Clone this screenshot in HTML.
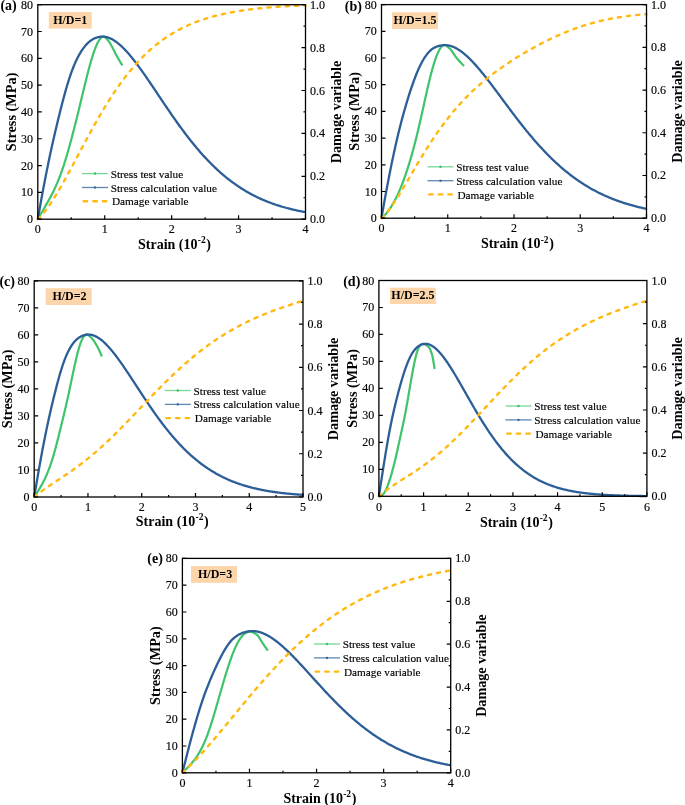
<!DOCTYPE html>
<html><head><meta charset="utf-8"><style>
html,body{margin:0;padding:0;background:#fff;}
body{width:685px;height:805px;overflow:hidden;font-family:"Liberation Serif",serif;}
svg{display:block;will-change:transform;}
</style></head><body>
<svg width="685" height="805" viewBox="0 0 685 805" font-family='"Liberation Serif", serif' fill="#000">
<style>text:not([font-weight]){stroke:#000;stroke-width:0.15px;}</style>
<rect width="685" height="805" fill="#fff"/>
<g><rect x="48.8" y="11.9" width="42.9" height="16.7" fill="#fdd5ab"/><text x="70.25" y="23.85" text-anchor="middle" font-weight="bold" font-size="12">H/D=1</text><path d="M37.8,219.19 L38.54,217.87 L39.28,216.57 L40.02,215.28 L40.76,214.01 L41.5,212.74 L42.24,211.47 L42.99,210.21 L43.73,208.95 L44.47,207.69 L45.21,206.42 L45.95,205.14 L46.69,203.86 L47.43,202.56 L48.17,201.24 L48.91,199.91 L49.65,198.56 L50.39,197.18 L51.13,195.78 L51.87,194.35 L52.61,192.89 L53.36,191.4 L54.1,189.87 L54.84,188.3 L55.58,186.68 L56.32,185.03 L57.06,183.33 L57.8,181.58 L58.54,179.77 L59.28,177.92 L60.02,176 L60.76,174.03 L61.5,171.99 L62.24,169.89 L62.98,167.72 L63.73,165.48 L64.47,163.17 L65.21,160.79 L65.95,158.35 L66.69,155.86 L67.43,153.31 L68.17,150.71 L68.91,148.07 L69.65,145.39 L70.39,142.67 L71.13,139.93 L71.87,137.16 L72.61,134.37 L73.35,131.55 L74.1,128.7 L74.84,125.83 L75.58,122.92 L76.32,119.98 L77.06,117.01 L77.8,114 L78.54,110.96 L79.28,107.89 L80.02,104.81 L80.76,101.71 L81.5,98.6 L82.24,95.5 L82.98,92.4 L83.72,89.31 L84.47,86.25 L85.21,83.21 L85.95,80.21 L86.69,77.26 L87.43,74.35 L88.17,71.49 L88.91,68.7 L89.65,65.97 L90.39,63.33 L91.13,60.76 L91.87,58.29 L92.61,55.91 L93.35,53.63 L94.1,51.47 L94.84,49.42 L95.58,47.5 L96.32,45.71 L97.06,44.05 L97.8,42.54 L98.54,41.18 L99.28,39.98 L100.02,38.95 L100.76,38.09 L101.5,37.4 L102.24,36.91 L102.98,36.6 L103.72,36.5 L104.2,36.77 L104.68,37.1 L105.16,37.46 L105.64,37.87 L106.12,38.32 L106.6,38.8 L107.08,39.3 L107.55,39.84 L108.03,40.39 L108.51,40.97 L108.99,41.57 L109.47,42.26 L109.95,43.01 L110.43,43.83 L110.9,44.68 L111.38,45.55 L111.86,46.43 L112.34,47.31 L112.82,48.2 L113.3,49.13 L113.78,50.09 L114.26,51.07 L114.73,52.04 L115.21,53.01 L115.69,53.94 L116.17,54.84 L116.65,55.71 L117.13,56.57 L117.61,57.42 L118.09,58.26 L118.56,59.09 L119.04,59.91 L119.52,60.72 L120,61.52 L120.48,62.3 L120.96,63.07 L121.44,63.83 L121.91,64.57 L122.39,65.3" fill="none" stroke="#3ec46b" stroke-width="2.2" stroke-linejoin="round"/><path d="M37.8,219.2 L38.7,214.08 L39.59,208.98 L40.49,203.94 L41.38,198.96 L42.28,194.09 L43.17,189.31 L44.07,184.6 L44.96,179.94 L45.86,175.36 L46.75,170.85 L47.65,166.41 L48.54,162.05 L49.44,157.76 L50.33,153.55 L51.23,149.42 L52.13,145.35 L53.02,141.36 L53.92,137.43 L54.81,133.55 L55.71,129.73 L56.6,125.96 L57.5,122.24 L58.39,118.55 L59.29,114.91 L60.18,111.32 L61.08,107.77 L61.97,104.27 L62.87,100.83 L63.76,97.45 L64.66,94.15 L65.55,90.93 L66.45,87.79 L67.35,84.76 L68.24,81.82 L69.14,78.99 L70.03,76.27 L70.93,73.67 L71.82,71.18 L72.72,68.81 L73.61,66.54 L74.51,64.39 L75.4,62.35 L76.3,60.41 L77.19,58.57 L78.09,56.82 L78.98,55.17 L79.88,53.61 L80.78,52.12 L81.67,50.72 L82.57,49.4 L83.46,48.15 L84.36,46.97 L85.25,45.87 L86.15,44.83 L87.04,43.86 L87.94,42.95 L88.83,42.16 L89.73,41.43 L90.62,40.75 L91.52,40.12 L92.41,39.55 L93.31,39.04 L94.21,38.57 L95.1,38.16 L96,37.8 L96.89,37.49 L97.79,37.22 L98.68,37.01 L99.58,36.84 L100.47,36.71 L101.37,36.64 L102.26,36.61 L103.16,36.62 L104.05,36.68 L104.95,36.79 L105.84,36.95 L106.74,37.16 L107.63,37.41 L108.53,37.71 L109.43,38.05 L110.32,38.43 L111.22,38.85 L112.11,39.31 L113.01,39.81 L113.9,40.35 L114.8,40.93 L115.69,41.54 L116.59,42.18 L117.48,42.86 L118.38,43.58 L119.27,44.32 L120.17,45.1 L121.06,45.9 L121.96,46.74 L122.86,47.6 L123.75,48.49 L124.65,49.4 L125.54,50.34 L126.44,51.3 L127.33,52.29 L128.23,53.3 L129.12,54.33 L130.02,55.38 L130.91,56.46 L131.81,57.55 L132.7,58.66 L133.6,59.78 L134.49,60.92 L135.39,62.08 L136.28,63.26 L137.18,64.45 L138.08,65.65 L138.97,66.86 L139.87,68.09 L140.76,69.33 L141.66,70.58 L142.55,71.84 L143.45,73.1 L144.34,74.38 L145.24,75.67 L146.13,76.96 L147.03,78.26 L147.92,79.56 L148.82,80.88 L149.71,82.19 L150.61,83.51 L151.51,84.84 L152.4,86.17 L153.3,87.5 L154.19,88.83 L155.09,90.17 L155.98,91.51 L156.88,92.84 L157.77,94.18 L158.67,95.52 L159.56,96.86 L160.46,98.2 L161.35,99.53 L162.25,100.87 L163.14,102.2 L164.04,103.53 L164.94,104.86 L165.83,106.18 L166.73,107.51 L167.62,108.82 L168.52,110.14 L169.41,111.44 L170.31,112.75 L171.2,114.05 L172.1,115.34 L172.99,116.63 L173.89,117.91 L174.78,119.19 L175.68,120.45 L176.57,121.72 L177.47,122.97 L178.36,124.22 L179.26,125.46 L180.16,126.7 L181.05,127.92 L181.95,129.14 L182.84,130.35 L183.74,131.55 L184.63,132.75 L185.53,133.93 L186.42,135.11 L187.32,136.28 L188.21,137.43 L189.11,138.58 L190,139.72 L190.9,140.85 L191.79,141.98 L192.69,143.09 L193.59,144.19 L194.48,145.28 L195.38,146.36 L196.27,147.44 L197.17,148.5 L198.06,149.55 L198.96,150.6 L199.85,151.63 L200.75,152.65 L201.64,153.66 L202.54,154.66 L203.43,155.66 L204.33,156.64 L205.22,157.61 L206.12,158.57 L207.02,159.52 L207.91,160.46 L208.81,161.39 L209.7,162.31 L210.6,163.22 L211.49,164.11 L212.39,165 L213.28,165.88 L214.18,166.75 L215.07,167.6 L215.97,168.45 L216.86,169.29 L217.76,170.11 L218.65,170.93 L219.55,171.74 L220.44,172.53 L221.34,173.32 L222.24,174.09 L223.13,174.86 L224.03,175.61 L224.92,176.36 L225.82,177.1 L226.71,177.82 L227.61,178.54 L228.5,179.24 L229.4,179.94 L230.29,180.63 L231.19,181.31 L232.08,181.98 L232.98,182.64 L233.87,183.29 L234.77,183.93 L235.67,184.56 L236.56,185.18 L237.46,185.79 L238.35,186.4 L239.25,186.99 L240.14,187.58 L241.04,188.16 L241.93,188.73 L242.83,189.29 L243.72,189.84 L244.62,190.39 L245.51,190.92 L246.41,191.45 L247.3,191.97 L248.2,192.48 L249.09,192.98 L249.99,193.48 L250.89,193.97 L251.78,194.44 L252.68,194.92 L253.57,195.38 L254.47,195.84 L255.36,196.29 L256.26,196.73 L257.15,197.17 L258.05,197.59 L258.94,198.01 L259.84,198.43 L260.73,198.84 L261.63,199.24 L262.52,199.63 L263.42,200.02 L264.32,200.4 L265.21,200.77 L266.11,201.14 L267,201.5 L267.9,201.85 L268.79,202.2 L269.69,202.54 L270.58,202.88 L271.48,203.21 L272.37,203.54 L273.27,203.86 L274.16,204.17 L275.06,204.48 L275.95,204.78 L276.85,205.08 L277.75,205.37 L278.64,205.65 L279.54,205.94 L280.43,206.21 L281.33,206.48 L282.22,206.75 L283.12,207.01 L284.01,207.26 L284.91,207.52 L285.8,207.76 L286.7,208 L287.59,208.24 L288.49,208.48 L289.38,208.7 L290.28,208.93 L291.17,209.15 L292.07,209.36 L292.97,209.58 L293.86,209.78 L294.76,209.99 L295.65,210.19 L296.55,210.38 L297.44,210.57 L298.34,210.76 L299.23,210.95 L300.13,211.13 L301.02,211.3 L301.92,211.48 L302.81,211.65 L303.71,211.82 L304.6,211.98 L305.5,212.14" fill="none" stroke="#2c5e98" stroke-width="2.3" stroke-linejoin="round"/><path d="M37.8,219.2 L38.7,218.31 L39.59,217.39 L40.49,216.43 L41.38,215.43 L42.28,214.4 L43.17,213.33 L44.07,212.23 L44.96,211.1 L45.86,209.94 L46.75,208.75 L47.65,207.53 L48.54,206.28 L49.44,205 L50.33,203.7 L51.23,202.37 L52.13,201.02 L53.02,199.64 L53.92,198.24 L54.81,196.82 L55.71,195.38 L56.6,193.92 L57.5,192.44 L58.39,190.94 L59.29,189.42 L60.18,187.89 L61.08,186.34 L61.97,184.78 L62.87,183.21 L63.76,181.62 L64.66,180.02 L65.55,178.41 L66.45,176.79 L67.35,175.16 L68.24,173.52 L69.14,171.88 L70.03,170.22 L70.93,168.56 L71.82,166.9 L72.72,165.23 L73.61,163.55 L74.51,161.88 L75.4,160.2 L76.3,158.51 L77.19,156.83 L78.09,155.15 L78.98,153.46 L79.88,151.78 L80.78,150.1 L81.67,148.42 L82.57,146.74 L83.46,145.07 L84.36,143.39 L85.25,141.73 L86.15,140.06 L87.04,138.41 L87.94,136.75 L88.83,135.11 L89.73,133.47 L90.62,131.84 L91.52,130.21 L92.41,128.59 L93.31,126.98 L94.21,125.38 L95.1,123.79 L96,122.21 L96.89,120.63 L97.79,119.07 L98.68,117.51 L99.58,115.97 L100.47,114.44 L101.37,112.92 L102.26,111.41 L103.16,109.91 L104.05,108.42 L104.95,106.95 L105.84,105.48 L106.74,104.03 L107.63,102.59 L108.53,101.17 L109.43,99.75 L110.32,98.35 L111.22,96.97 L112.11,95.59 L113.01,94.23 L113.9,92.89 L114.8,91.55 L115.69,90.23 L116.59,88.93 L117.48,87.63 L118.38,86.36 L119.27,85.09 L120.17,83.84 L121.06,82.6 L121.96,81.38 L122.86,80.17 L123.75,78.98 L124.65,77.8 L125.54,76.63 L126.44,75.48 L127.33,74.34 L128.23,73.21 L129.12,72.1 L130.02,71 L130.91,69.92 L131.81,68.85 L132.7,67.8 L133.6,66.75 L134.49,65.73 L135.39,64.71 L136.28,63.71 L137.18,62.72 L138.08,61.75 L138.97,60.79 L139.87,59.84 L140.76,58.9 L141.66,57.98 L142.55,57.07 L143.45,56.18 L144.34,55.3 L145.24,54.43 L146.13,53.57 L147.03,52.72 L147.92,51.89 L148.82,51.07 L149.71,50.26 L150.61,49.46 L151.51,48.68 L152.4,47.9 L153.3,47.14 L154.19,46.39 L155.09,45.65 L155.98,44.93 L156.88,44.21 L157.77,43.51 L158.67,42.81 L159.56,42.13 L160.46,41.46 L161.35,40.8 L162.25,40.14 L163.14,39.5 L164.04,38.87 L164.94,38.25 L165.83,37.64 L166.73,37.04 L167.62,36.45 L168.52,35.87 L169.41,35.29 L170.31,34.73 L171.2,34.18 L172.1,33.63 L172.99,33.1 L173.89,32.57 L174.78,32.05 L175.68,31.54 L176.57,31.04 L177.47,30.55 L178.36,30.06 L179.26,29.59 L180.16,29.12 L181.05,28.66 L181.95,28.21 L182.84,27.76 L183.74,27.32 L184.63,26.89 L185.53,26.47 L186.42,26.06 L187.32,25.65 L188.21,25.25 L189.11,24.85 L190,24.46 L190.9,24.08 L191.79,23.71 L192.69,23.34 L193.59,22.98 L194.48,22.62 L195.38,22.27 L196.27,21.93 L197.17,21.59 L198.06,21.26 L198.96,20.94 L199.85,20.62 L200.75,20.3 L201.64,19.99 L202.54,19.69 L203.43,19.39 L204.33,19.1 L205.22,18.81 L206.12,18.53 L207.02,18.25 L207.91,17.98 L208.81,17.71 L209.7,17.45 L210.6,17.19 L211.49,16.94 L212.39,16.69 L213.28,16.45 L214.18,16.21 L215.07,15.97 L215.97,15.74 L216.86,15.51 L217.76,15.29 L218.65,15.07 L219.55,14.85 L220.44,14.64 L221.34,14.43 L222.24,14.23 L223.13,14.03 L224.03,13.83 L224.92,13.64 L225.82,13.45 L226.71,13.26 L227.61,13.08 L228.5,12.9 L229.4,12.72 L230.29,12.55 L231.19,12.38 L232.08,12.21 L232.98,12.05 L233.87,11.89 L234.77,11.73 L235.67,11.57 L236.56,11.42 L237.46,11.27 L238.35,11.12 L239.25,10.98 L240.14,10.84 L241.04,10.7 L241.93,10.56 L242.83,10.43 L243.72,10.3 L244.62,10.17 L245.51,10.04 L246.41,9.92 L247.3,9.8 L248.2,9.68 L249.09,9.56 L249.99,9.44 L250.89,9.33 L251.78,9.22 L252.68,9.11 L253.57,9 L254.47,8.9 L255.36,8.8 L256.26,8.7 L257.15,8.6 L258.05,8.5 L258.94,8.4 L259.84,8.31 L260.73,8.22 L261.63,8.13 L262.52,8.04 L263.42,7.96 L264.32,7.87 L265.21,7.79 L266.11,7.71 L267,7.63 L267.9,7.55 L268.79,7.47 L269.69,7.4 L270.58,7.32 L271.48,7.25 L272.37,7.18 L273.27,7.11 L274.16,7.04 L275.06,6.98 L275.95,6.91 L276.85,6.85 L277.75,6.79 L278.64,6.73 L279.54,6.67 L280.43,6.61 L281.33,6.55 L282.22,6.49 L283.12,6.44 L284.01,6.39 L284.91,6.33 L285.8,6.28 L286.7,6.23 L287.59,6.18 L288.49,6.14 L289.38,6.09 L290.28,6.04 L291.17,6 L292.07,5.96 L292.97,5.91 L293.86,5.87 L294.76,5.83 L295.65,5.79 L296.55,5.76 L297.44,5.72 L298.34,5.68 L299.23,5.65 L300.13,5.61 L301.02,5.58 L301.92,5.55 L302.81,5.52 L303.71,5.49 L304.6,5.46 L305.5,5.43" fill="none" stroke="#ffb910" stroke-width="2.4" stroke-dasharray="3.2 6" stroke-linecap="round"/><rect x="37.8" y="4.7" width="267.7" height="214.5" fill="none" stroke="#000" stroke-width="1.3"/><path d="M37.8,219.2h4 M37.8,192.39h4 M37.8,165.57h4 M37.8,138.76h4 M37.8,111.95h4 M37.8,85.14h4 M37.8,58.32h4 M37.8,31.51h4 M37.8,4.7h4 M305.5,219.2h-4 M305.5,197.75h-2 M305.5,176.3h-4 M305.5,154.85h-2 M305.5,133.4h-4 M305.5,111.95h-2 M305.5,90.5h-4 M305.5,69.05h-2 M305.5,47.6h-4 M305.5,26.15h-2 M305.5,4.7h-4 M37.8,219.2v-4 M71.26,219.2v-2 M104.72,219.2v-4 M138.19,219.2v-2 M171.65,219.2v-4 M205.11,219.2v-2 M238.57,219.2v-4 M272.04,219.2v-2 M305.5,219.2v-4" stroke="#000" stroke-width="1.2" fill="none"/><text x="33.1" y="223.2" text-anchor="end" font-size="12">0</text><text x="33.1" y="196.39" text-anchor="end" font-size="12">10</text><text x="33.1" y="169.57" text-anchor="end" font-size="12">20</text><text x="33.1" y="142.76" text-anchor="end" font-size="12">30</text><text x="33.1" y="115.95" text-anchor="end" font-size="12">40</text><text x="33.1" y="89.14" text-anchor="end" font-size="12">50</text><text x="33.1" y="62.32" text-anchor="end" font-size="12">60</text><text x="33.1" y="35.51" text-anchor="end" font-size="12">70</text><text x="33.1" y="8.7" text-anchor="end" font-size="12">80</text><text x="310.1" y="223.2" font-size="12">0.0</text><text x="310.1" y="180.3" font-size="12">0.2</text><text x="310.1" y="137.4" font-size="12">0.4</text><text x="310.1" y="94.5" font-size="12">0.6</text><text x="310.1" y="51.6" font-size="12">0.8</text><text x="310.1" y="8.7" font-size="12">1.0</text><text x="37.8" y="233.3" text-anchor="middle" font-size="12">0</text><text x="104.72" y="233.3" text-anchor="middle" font-size="12">1</text><text x="171.65" y="233.3" text-anchor="middle" font-size="12">2</text><text x="238.57" y="233.3" text-anchor="middle" font-size="12">3</text><text x="305.5" y="233.3" text-anchor="middle" font-size="12">4</text><text transform="translate(16.2,111.95) rotate(-90)" text-anchor="middle" font-weight="bold" font-size="14.3">Stress (MPa)</text><text transform="translate(340.9,111.95) rotate(-90)" text-anchor="middle" font-weight="bold" font-size="14.15">Damage variable</text><text x="138" y="248.6" font-weight="bold" font-size="14">Strain (10<tspan dx="0.3" dy="-5.8" font-size="9.5">-2</tspan><tspan dx="0.6" dy="5.8">)</tspan></text><text x="0.4" y="9.6" font-weight="bold" font-size="14">(a)</text><path d="M82,173.6h26" stroke="#3ec46b" stroke-opacity="0.7" stroke-width="1.3"/><circle cx="95" cy="173.6" r="1.3" fill="#3ec46b"/><path d="M82,187.5h26" stroke="#2c5e98" stroke-opacity="0.75" stroke-width="1.3"/><rect x="94" y="186.5" width="2" height="2" fill="#2c5e98"/><path d="M83.7,201.2h23" stroke="#ffb910" stroke-width="2.4" stroke-dasharray="3.4 6.2" stroke-linecap="round"/><text x="110.7" y="177.7" font-size="11.25">Stress test value</text><text x="110.7" y="191.5" font-size="11.25">Stress calculation value</text><text x="112" y="205.3" font-size="11.25">Damage variable</text></g>
<g><rect x="392" y="12.2" width="46" height="16.8" fill="#fdd5ab"/><text x="415" y="24.2" text-anchor="middle" font-weight="bold" font-size="12">H/D=1.5</text><path d="M381.5,218.19 L382.21,217.6 L382.92,216.96 L383.63,216.29 L384.35,215.58 L385.06,214.83 L385.77,214.04 L386.48,213.21 L387.19,212.34 L387.9,211.43 L388.62,210.47 L389.33,209.48 L390.04,208.45 L390.75,207.37 L391.46,206.25 L392.17,205.09 L392.89,203.88 L393.6,202.63 L394.31,201.34 L395.02,200 L395.73,198.62 L396.44,197.19 L397.16,195.72 L397.87,194.2 L398.58,192.63 L399.29,191.02 L400,189.36 L400.71,187.66 L401.43,185.91 L402.14,184.1 L402.85,182.26 L403.56,180.36 L404.27,178.41 L404.98,176.41 L405.7,174.37 L406.41,172.27 L407.12,170.13 L407.83,167.93 L408.54,165.68 L409.25,163.38 L409.96,161.03 L410.68,158.62 L411.39,156.17 L412.1,153.66 L412.81,151.09 L413.52,148.48 L414.23,145.81 L414.95,143.08 L415.66,140.3 L416.37,137.46 L417.08,134.57 L417.79,131.63 L418.5,128.62 L419.22,125.56 L419.93,122.46 L420.64,119.31 L421.35,116.12 L422.06,112.92 L422.77,109.7 L423.49,106.47 L424.2,103.24 L424.91,100.02 L425.62,96.82 L426.33,93.65 L427.04,90.51 L427.76,87.41 L428.47,84.37 L429.18,81.38 L429.89,78.47 L430.6,75.63 L431.31,72.87 L432.03,70.21 L432.74,67.66 L433.45,65.21 L434.16,62.88 L434.87,60.67 L435.58,58.6 L436.29,56.65 L437.01,54.85 L437.72,53.17 L438.43,51.65 L439.14,50.26 L439.85,49.03 L440.56,47.95 L441.28,47.02 L441.99,46.26 L442.7,45.66 L443.41,45.22 L444.12,44.95 L444.83,44.86 L445.33,45.11 L445.82,45.39 L446.32,45.7 L446.81,46.04 L447.31,46.41 L447.8,46.8 L448.29,47.21 L448.79,47.65 L449.28,48.1 L449.78,48.57 L450.27,49.07 L450.77,49.64 L451.26,50.27 L451.76,50.95 L452.25,51.67 L452.74,52.41 L453.24,53.17 L453.73,53.93 L454.23,54.68 L454.72,55.42 L455.22,56.13 L455.71,56.79 L456.2,57.41 L456.7,58.01 L457.19,58.61 L457.69,59.19 L458.18,59.77 L458.68,60.34 L459.17,60.91 L459.66,61.46 L460.16,62.01 L460.65,62.54 L461.15,63.07 L461.64,63.59 L462.14,64.09 L462.63,64.59 L463.13,65.07 L463.62,65.55 L464.11,66.01" fill="none" stroke="#3ec46b" stroke-width="2.2" stroke-linejoin="round"/><path d="M381.5,218.2 L382.39,212.93 L383.27,207.81 L384.16,202.8 L385.05,197.87 L385.93,193.04 L386.82,188.28 L387.7,183.6 L388.59,178.99 L389.48,174.46 L390.36,170 L391.25,165.63 L392.14,161.33 L393.02,157.11 L393.91,152.97 L394.79,148.92 L395.68,144.95 L396.57,141.07 L397.45,137.27 L398.34,133.56 L399.23,129.94 L400.11,126.41 L401,122.96 L401.88,119.59 L402.77,116.3 L403.66,113.09 L404.54,109.95 L405.43,106.88 L406.32,103.87 L407.2,100.92 L408.09,98.04 L408.97,95.21 L409.86,92.44 L410.75,89.73 L411.63,87.09 L412.52,84.51 L413.41,82.01 L414.29,79.58 L415.18,77.23 L416.07,74.96 L416.95,72.77 L417.84,70.67 L418.72,68.66 L419.61,66.74 L420.5,64.91 L421.38,63.17 L422.27,61.52 L423.16,59.96 L424.04,58.49 L424.93,57.11 L425.81,55.82 L426.7,54.61 L427.59,53.49 L428.47,52.45 L429.36,51.49 L430.25,50.6 L431.13,49.79 L432.02,49.14 L432.9,48.56 L433.79,48.04 L434.68,47.57 L435.56,47.15 L436.45,46.78 L437.34,46.45 L438.22,46.17 L439.11,45.92 L439.99,45.71 L440.88,45.54 L441.77,45.4 L442.65,45.29 L443.54,45.22 L444.43,45.19 L445.31,45.18 L446.2,45.22 L447.09,45.29 L447.97,45.4 L448.86,45.55 L449.74,45.74 L450.63,45.97 L451.52,46.24 L452.4,46.55 L453.29,46.89 L454.18,47.27 L455.06,47.68 L455.95,48.13 L456.83,48.62 L457.72,49.13 L458.61,49.68 L459.49,50.25 L460.38,50.86 L461.27,51.49 L462.15,52.16 L463.04,52.85 L463.92,53.56 L464.81,54.3 L465.7,55.07 L466.58,55.86 L467.47,56.67 L468.36,57.5 L469.24,58.36 L470.13,59.23 L471.02,60.13 L471.9,61.04 L472.79,61.98 L473.67,62.93 L474.56,63.89 L475.45,64.87 L476.33,65.87 L477.22,66.89 L478.11,67.91 L478.99,68.95 L479.88,70.01 L480.76,71.07 L481.65,72.15 L482.54,73.24 L483.42,74.33 L484.31,75.44 L485.2,76.56 L486.08,77.68 L486.97,78.82 L487.85,79.96 L488.74,81.11 L489.63,82.26 L490.51,83.42 L491.4,84.59 L492.29,85.76 L493.17,86.93 L494.06,88.11 L494.94,89.29 L495.83,90.48 L496.72,91.67 L497.6,92.86 L498.49,94.05 L499.38,95.25 L500.26,96.44 L501.15,97.64 L502.04,98.83 L502.92,100.03 L503.81,101.22 L504.69,102.42 L505.58,103.61 L506.47,104.8 L507.35,105.99 L508.24,107.18 L509.13,108.37 L510.01,109.55 L510.9,110.73 L511.78,111.91 L512.67,113.08 L513.56,114.25 L514.44,115.42 L515.33,116.58 L516.22,117.74 L517.1,118.89 L517.99,120.04 L518.87,121.18 L519.76,122.32 L520.65,123.45 L521.53,124.58 L522.42,125.7 L523.31,126.81 L524.19,127.92 L525.08,129.02 L525.96,130.12 L526.85,131.21 L527.74,132.29 L528.62,133.37 L529.51,134.43 L530.4,135.5 L531.28,136.55 L532.17,137.6 L533.06,138.64 L533.94,139.67 L534.83,140.69 L535.71,141.71 L536.6,142.71 L537.49,143.71 L538.37,144.71 L539.26,145.69 L540.15,146.67 L541.03,147.63 L541.92,148.59 L542.8,149.55 L543.69,150.49 L544.58,151.42 L545.46,152.35 L546.35,153.27 L547.24,154.18 L548.12,155.08 L549.01,155.97 L549.89,156.85 L550.78,157.73 L551.67,158.59 L552.55,159.45 L553.44,160.3 L554.33,161.14 L555.21,161.97 L556.1,162.79 L556.98,163.61 L557.87,164.41 L558.76,165.21 L559.64,166 L560.53,166.78 L561.42,167.55 L562.3,168.31 L563.19,169.06 L564.08,169.81 L564.96,170.55 L565.85,171.27 L566.73,171.99 L567.62,172.71 L568.51,173.41 L569.39,174.1 L570.28,174.79 L571.17,175.47 L572.05,176.14 L572.94,176.8 L573.82,177.45 L574.71,178.1 L575.6,178.74 L576.48,179.37 L577.37,179.99 L578.26,180.6 L579.14,181.21 L580.03,181.81 L580.91,182.4 L581.8,182.98 L582.69,183.55 L583.57,184.12 L584.46,184.68 L585.35,185.23 L586.23,185.78 L587.12,186.32 L588.01,186.85 L588.89,187.37 L589.78,187.89 L590.66,188.39 L591.55,188.9 L592.44,189.39 L593.32,189.88 L594.21,190.36 L595.1,190.83 L595.98,191.3 L596.87,191.76 L597.75,192.22 L598.64,192.66 L599.53,193.1 L600.41,193.54 L601.3,193.97 L602.19,194.39 L603.07,194.8 L603.96,195.21 L604.84,195.62 L605.73,196.01 L606.62,196.41 L607.5,196.79 L608.39,197.17 L609.28,197.54 L610.16,197.91 L611.05,198.27 L611.93,198.63 L612.82,198.98 L613.71,199.33 L614.59,199.67 L615.48,200 L616.37,200.33 L617.25,200.66 L618.14,200.98 L619.03,201.29 L619.91,201.6 L620.8,201.91 L621.68,202.21 L622.57,202.5 L623.46,202.79 L624.34,203.08 L625.23,203.36 L626.12,203.63 L627,203.91 L627.89,204.17 L628.77,204.44 L629.66,204.69 L630.55,204.95 L631.43,205.2 L632.32,205.44 L633.21,205.69 L634.09,205.92 L634.98,206.16 L635.86,206.39 L636.75,206.61 L637.64,206.83 L638.52,207.05 L639.41,207.27 L640.3,207.48 L641.18,207.68 L642.07,207.89 L642.95,208.09 L643.84,208.28 L644.73,208.48 L645.61,208.66 L646.5,208.85" fill="none" stroke="#2c5e98" stroke-width="2.3" stroke-linejoin="round"/><path d="M381.5,218.2 L382.39,217.36 L383.27,216.48 L384.16,215.55 L385.05,214.57 L385.93,213.56 L386.82,212.5 L387.7,211.41 L388.59,210.28 L389.48,209.11 L390.36,207.92 L391.25,206.69 L392.14,205.43 L393.02,204.15 L393.91,202.84 L394.79,201.51 L395.68,200.16 L396.57,198.79 L397.45,197.4 L398.34,195.99 L399.23,194.56 L400.11,193.13 L401,191.68 L401.88,190.21 L402.77,188.74 L403.66,187.26 L404.54,185.77 L405.43,184.27 L406.32,182.77 L407.2,181.26 L408.09,179.75 L408.97,178.24 L409.86,176.73 L410.75,175.21 L411.63,173.7 L412.52,172.19 L413.41,170.68 L414.29,169.17 L415.18,167.66 L416.07,166.16 L416.95,164.67 L417.84,163.18 L418.72,161.69 L419.61,160.21 L420.5,158.74 L421.38,157.28 L422.27,155.82 L423.16,154.37 L424.04,152.93 L424.93,151.5 L425.81,150.08 L426.7,148.67 L427.59,147.27 L428.47,145.88 L429.36,144.5 L430.25,143.13 L431.13,141.77 L432.02,140.42 L432.9,139.09 L433.79,137.76 L434.68,136.45 L435.56,135.15 L436.45,133.86 L437.34,132.58 L438.22,131.32 L439.11,130.06 L439.99,128.82 L440.88,127.59 L441.77,126.38 L442.65,125.17 L443.54,123.98 L444.43,122.8 L445.31,121.63 L446.2,120.47 L447.09,119.33 L447.97,118.19 L448.86,117.07 L449.74,115.96 L450.63,114.87 L451.52,113.78 L452.4,112.71 L453.29,111.65 L454.18,110.59 L455.06,109.55 L455.95,108.53 L456.83,107.51 L457.72,106.5 L458.61,105.51 L459.49,104.52 L460.38,103.55 L461.27,102.58 L462.15,101.63 L463.04,100.69 L463.92,99.75 L464.81,98.83 L465.7,97.92 L466.58,97.01 L467.47,96.12 L468.36,95.23 L469.24,94.36 L470.13,93.49 L471.02,92.63 L471.9,91.78 L472.79,90.94 L473.67,90.11 L474.56,89.29 L475.45,88.47 L476.33,87.67 L477.22,86.87 L478.11,86.08 L478.99,85.3 L479.88,84.52 L480.76,83.75 L481.65,82.99 L482.54,82.24 L483.42,81.49 L484.31,80.75 L485.2,80.02 L486.08,79.29 L486.97,78.57 L487.85,77.86 L488.74,77.16 L489.63,76.45 L490.51,75.76 L491.4,75.07 L492.29,74.39 L493.17,73.71 L494.06,73.04 L494.94,72.38 L495.83,71.72 L496.72,71.06 L497.6,70.41 L498.49,69.77 L499.38,69.13 L500.26,68.5 L501.15,67.87 L502.04,67.24 L502.92,66.62 L503.81,66.01 L504.69,65.4 L505.58,64.79 L506.47,64.19 L507.35,63.59 L508.24,63 L509.13,62.41 L510.01,61.83 L510.9,61.25 L511.78,60.67 L512.67,60.1 L513.56,59.53 L514.44,58.97 L515.33,58.41 L516.22,57.85 L517.1,57.3 L517.99,56.75 L518.87,56.2 L519.76,55.66 L520.65,55.12 L521.53,54.58 L522.42,54.05 L523.31,53.52 L524.19,53 L525.08,52.48 L525.96,51.96 L526.85,51.45 L527.74,50.93 L528.62,50.43 L529.51,49.92 L530.4,49.42 L531.28,48.92 L532.17,48.43 L533.06,47.94 L533.94,47.45 L534.83,46.97 L535.71,46.48 L536.6,46.01 L537.49,45.53 L538.37,45.06 L539.26,44.59 L540.15,44.13 L541.03,43.67 L541.92,43.21 L542.8,42.75 L543.69,42.3 L544.58,41.85 L545.46,41.41 L546.35,40.97 L547.24,40.53 L548.12,40.1 L549.01,39.66 L549.89,39.24 L550.78,38.81 L551.67,38.39 L552.55,37.97 L553.44,37.56 L554.33,37.15 L555.21,36.74 L556.1,36.34 L556.98,35.94 L557.87,35.54 L558.76,35.15 L559.64,34.76 L560.53,34.38 L561.42,33.99 L562.3,33.62 L563.19,33.24 L564.08,32.87 L564.96,32.5 L565.85,32.14 L566.73,31.78 L567.62,31.43 L568.51,31.07 L569.39,30.73 L570.28,30.38 L571.17,30.04 L572.05,29.71 L572.94,29.37 L573.82,29.04 L574.71,28.72 L575.6,28.4 L576.48,28.08 L577.37,27.77 L578.26,27.46 L579.14,27.15 L580.03,26.85 L580.91,26.55 L581.8,26.26 L582.69,25.97 L583.57,25.68 L584.46,25.4 L585.35,25.12 L586.23,24.84 L587.12,24.57 L588.01,24.31 L588.89,24.04 L589.78,23.79 L590.66,23.53 L591.55,23.28 L592.44,23.03 L593.32,22.79 L594.21,22.55 L595.1,22.31 L595.98,22.08 L596.87,21.85 L597.75,21.62 L598.64,21.4 L599.53,21.19 L600.41,20.97 L601.3,20.76 L602.19,20.56 L603.07,20.35 L603.96,20.15 L604.84,19.96 L605.73,19.77 L606.62,19.58 L607.5,19.39 L608.39,19.21 L609.28,19.03 L610.16,18.86 L611.05,18.68 L611.93,18.52 L612.82,18.35 L613.71,18.19 L614.59,18.03 L615.48,17.88 L616.37,17.72 L617.25,17.58 L618.14,17.43 L619.03,17.29 L619.91,17.15 L620.8,17.01 L621.68,16.88 L622.57,16.75 L623.46,16.62 L624.34,16.49 L625.23,16.37 L626.12,16.25 L627,16.13 L627.89,16.02 L628.77,15.91 L629.66,15.8 L630.55,15.69 L631.43,15.59 L632.32,15.49 L633.21,15.39 L634.09,15.29 L634.98,15.2 L635.86,15.11 L636.75,15.02 L637.64,14.93 L638.52,14.85 L639.41,14.77 L640.3,14.69 L641.18,14.61 L642.07,14.54 L642.95,14.46 L643.84,14.39 L644.73,14.32 L645.61,14.26 L646.5,14.19" fill="none" stroke="#ffb910" stroke-width="2.4" stroke-dasharray="3.2 6" stroke-linecap="round"/><rect x="381.5" y="4.6" width="265" height="213.6" fill="none" stroke="#000" stroke-width="1.3"/><path d="M381.5,218.2h4 M381.5,191.5h4 M381.5,164.8h4 M381.5,138.1h4 M381.5,111.4h4 M381.5,84.7h4 M381.5,58h4 M381.5,31.3h4 M381.5,4.6h4 M646.5,218.2h-4 M646.5,196.84h-2 M646.5,175.48h-4 M646.5,154.12h-2 M646.5,132.76h-4 M646.5,111.4h-2 M646.5,90.04h-4 M646.5,68.68h-2 M646.5,47.32h-4 M646.5,25.96h-2 M646.5,4.6h-4 M381.5,218.2v-4 M414.62,218.2v-2 M447.75,218.2v-4 M480.88,218.2v-2 M514,218.2v-4 M547.12,218.2v-2 M580.25,218.2v-4 M613.38,218.2v-2 M646.5,218.2v-4" stroke="#000" stroke-width="1.2" fill="none"/><text x="376.8" y="222.2" text-anchor="end" font-size="12">0</text><text x="376.8" y="195.5" text-anchor="end" font-size="12">10</text><text x="376.8" y="168.8" text-anchor="end" font-size="12">20</text><text x="376.8" y="142.1" text-anchor="end" font-size="12">30</text><text x="376.8" y="115.4" text-anchor="end" font-size="12">40</text><text x="376.8" y="88.7" text-anchor="end" font-size="12">50</text><text x="376.8" y="62" text-anchor="end" font-size="12">60</text><text x="376.8" y="35.3" text-anchor="end" font-size="12">70</text><text x="376.8" y="8.6" text-anchor="end" font-size="12">80</text><text x="651.1" y="222.2" font-size="12">0.0</text><text x="651.1" y="179.48" font-size="12">0.2</text><text x="651.1" y="136.76" font-size="12">0.4</text><text x="651.1" y="94.04" font-size="12">0.6</text><text x="651.1" y="51.32" font-size="12">0.8</text><text x="651.1" y="8.6" font-size="12">1.0</text><text x="381.5" y="232.4" text-anchor="middle" font-size="12">0</text><text x="447.75" y="232.4" text-anchor="middle" font-size="12">1</text><text x="514" y="232.4" text-anchor="middle" font-size="12">2</text><text x="580.25" y="232.4" text-anchor="middle" font-size="12">3</text><text x="646.5" y="232.4" text-anchor="middle" font-size="12">4</text><text transform="translate(359.4,111.4) rotate(-90)" text-anchor="middle" font-weight="bold" font-size="14.3">Stress (MPa)</text><text transform="translate(681.5,111.4) rotate(-90)" text-anchor="middle" font-weight="bold" font-size="14.15">Damage variable</text><text x="480.9" y="248.4" font-weight="bold" font-size="14">Strain (10<tspan dx="0.3" dy="-5.8" font-size="9.5">-2</tspan><tspan dx="0.6" dy="5.8">)</tspan></text><text x="344.8" y="10.8" font-weight="bold" font-size="14">(b)</text><path d="M427.5,166.8h26" stroke="#3ec46b" stroke-opacity="0.7" stroke-width="1.3"/><circle cx="440.5" cy="166.8" r="1.3" fill="#3ec46b"/><path d="M427.5,180.7h26" stroke="#2c5e98" stroke-opacity="0.75" stroke-width="1.3"/><rect x="439.5" y="179.7" width="2" height="2" fill="#2c5e98"/><path d="M429.2,194.4h23" stroke="#ffb910" stroke-width="2.4" stroke-dasharray="3.4 6.2" stroke-linecap="round"/><text x="456.2" y="170.9" font-size="11.25">Stress test value</text><text x="456.2" y="184.7" font-size="11.25">Stress calculation value</text><text x="457.5" y="198.5" font-size="11.25">Damage variable</text></g>
<g><rect x="45.7" y="288.2" width="46" height="16.8" fill="#fdd5ab"/><text x="69.5" y="300.2" text-anchor="middle" font-weight="bold" font-size="12">H/D=2</text><path d="M34.2,496.99 L34.79,496.09 L35.39,495.18 L35.98,494.27 L36.58,493.35 L37.17,492.43 L37.77,491.49 L38.36,490.54 L38.95,489.58 L39.55,488.6 L40.14,487.6 L40.74,486.58 L41.33,485.54 L41.92,484.47 L42.52,483.37 L43.11,482.25 L43.71,481.09 L44.3,479.9 L44.9,478.67 L45.49,477.4 L46.08,476.09 L46.68,474.74 L47.27,473.34 L47.87,471.89 L48.46,470.4 L49.05,468.85 L49.65,467.25 L50.24,465.59 L50.84,463.88 L51.43,462.1 L52.03,460.26 L52.62,458.36 L53.21,456.39 L53.81,454.35 L54.4,452.26 L55,450.11 L55.59,447.9 L56.18,445.66 L56.78,443.37 L57.37,441.05 L57.97,438.7 L58.56,436.33 L59.16,433.94 L59.75,431.54 L60.34,429.13 L60.94,426.71 L61.53,424.29 L62.13,421.85 L62.72,419.41 L63.32,416.95 L63.91,414.48 L64.5,411.98 L65.1,409.46 L65.69,406.91 L66.29,404.33 L66.88,401.72 L67.47,399.08 L68.07,396.39 L68.66,393.67 L69.26,390.9 L69.85,388.1 L70.45,385.27 L71.04,382.43 L71.63,379.59 L72.23,376.75 L72.82,373.93 L73.42,371.13 L74.01,368.37 L74.6,365.66 L75.2,363 L75.79,360.4 L76.39,357.88 L76.98,355.44 L77.58,353.1 L78.17,350.86 L78.76,348.73 L79.36,346.73 L79.95,344.87 L80.55,343.14 L81.14,341.57 L81.74,340.16 L82.33,338.91 L82.92,337.81 L83.52,336.86 L84.11,336.07 L84.71,335.43 L85.3,334.93 L85.89,334.58 L86.49,334.37 L87.08,334.3 L87.46,334.52 L87.84,334.75 L88.22,335.01 L88.6,335.29 L88.97,335.59 L89.35,335.91 L89.73,336.24 L90.11,336.59 L90.49,336.95 L90.86,337.33 L91.24,337.71 L91.62,338.11 L92,338.52 L92.38,338.95 L92.75,339.4 L93.13,339.88 L93.51,340.39 L93.89,340.92 L94.27,341.48 L94.65,342.06 L95.02,342.66 L95.4,343.27 L95.78,343.9 L96.16,344.55 L96.54,345.2 L96.91,345.87 L97.29,346.55 L97.67,347.25 L98.05,347.98 L98.43,348.73 L98.81,349.51 L99.18,350.31 L99.56,351.13 L99.94,351.97 L100.32,352.84 L100.7,353.72 L101.07,354.62 L101.45,355.54 L101.83,356.47" fill="none" stroke="#3ec46b" stroke-width="2.2" stroke-linejoin="round"/><path d="M34.2,497 L35.1,491.66 L36,486.34 L36.9,481.07 L37.8,475.86 L38.69,470.68 L39.59,465.59 L40.49,460.57 L41.39,455.65 L42.29,450.82 L43.19,446.08 L44.09,441.44 L44.99,436.91 L45.89,432.47 L46.79,428.12 L47.68,423.87 L48.58,419.72 L49.48,415.65 L50.38,411.67 L51.28,407.77 L52.18,403.94 L53.08,400.19 L53.98,396.52 L54.88,392.91 L55.78,389.37 L56.67,385.91 L57.57,382.53 L58.47,379.23 L59.37,376.03 L60.27,372.93 L61.17,369.96 L62.07,367.12 L62.97,364.41 L63.87,361.85 L64.77,359.44 L65.66,357.17 L66.56,355.05 L67.46,353.06 L68.36,351.21 L69.26,349.48 L70.16,347.87 L71.06,346.37 L71.96,344.98 L72.86,343.69 L73.76,342.49 L74.65,341.4 L75.55,340.49 L76.45,339.65 L77.35,338.88 L78.25,338.18 L79.15,337.54 L80.05,336.97 L80.95,336.46 L81.85,336.02 L82.75,335.64 L83.64,335.32 L84.54,335.06 L85.44,334.87 L86.34,334.73 L87.24,334.65 L88.14,334.61 L89.04,334.6 L89.94,334.66 L90.84,334.77 L91.74,334.95 L92.63,335.17 L93.53,335.46 L94.43,335.8 L95.33,336.18 L96.23,336.62 L97.13,337.11 L98.03,337.64 L98.93,338.22 L99.83,338.85 L100.73,339.51 L101.62,340.22 L102.52,340.96 L103.42,341.75 L104.32,342.57 L105.22,343.42 L106.12,344.31 L107.02,345.24 L107.92,346.19 L108.82,347.17 L109.72,348.19 L110.61,349.22 L111.51,350.29 L112.41,351.38 L113.31,352.49 L114.21,353.63 L115.11,354.78 L116.01,355.96 L116.91,357.16 L117.81,358.37 L118.71,359.6 L119.6,360.85 L120.5,362.11 L121.4,363.39 L122.3,364.67 L123.2,365.97 L124.1,367.28 L125,368.6 L125.9,369.93 L126.8,371.27 L127.7,372.62 L128.59,373.97 L129.49,375.33 L130.39,376.69 L131.29,378.06 L132.19,379.43 L133.09,380.8 L133.99,382.17 L134.89,383.55 L135.79,384.93 L136.69,386.31 L137.58,387.68 L138.48,389.06 L139.38,390.43 L140.28,391.81 L141.18,393.18 L142.08,394.54 L142.98,395.9 L143.88,397.26 L144.78,398.62 L145.68,399.96 L146.57,401.31 L147.47,402.64 L148.37,403.97 L149.27,405.3 L150.17,406.62 L151.07,407.92 L151.97,409.23 L152.87,410.52 L153.77,411.8 L154.67,413.08 L155.56,414.35 L156.46,415.6 L157.36,416.85 L158.26,418.09 L159.16,419.32 L160.06,420.54 L160.96,421.75 L161.86,422.94 L162.76,424.13 L163.66,425.31 L164.55,426.47 L165.45,427.62 L166.35,428.77 L167.25,429.9 L168.15,431.02 L169.05,432.12 L169.95,433.22 L170.85,434.3 L171.75,435.38 L172.65,436.43 L173.54,437.48 L174.44,438.52 L175.34,439.54 L176.24,440.55 L177.14,441.55 L178.04,442.54 L178.94,443.51 L179.84,444.48 L180.74,445.42 L181.64,446.36 L182.53,447.29 L183.43,448.2 L184.33,449.1 L185.23,449.99 L186.13,450.87 L187.03,451.73 L187.93,452.58 L188.83,453.42 L189.73,454.25 L190.63,455.07 L191.52,455.87 L192.42,456.66 L193.32,457.45 L194.22,458.21 L195.12,458.97 L196.02,459.72 L196.92,460.45 L197.82,461.18 L198.72,461.89 L199.62,462.59 L200.51,463.28 L201.41,463.96 L202.31,464.62 L203.21,465.28 L204.11,465.93 L205.01,466.56 L205.91,467.18 L206.81,467.8 L207.71,468.4 L208.61,469 L209.5,469.58 L210.4,470.15 L211.3,470.72 L212.2,471.27 L213.1,471.81 L214,472.35 L214.9,472.87 L215.8,473.39 L216.7,473.9 L217.6,474.39 L218.49,474.88 L219.39,475.36 L220.29,475.83 L221.19,476.29 L222.09,476.75 L222.99,477.19 L223.89,477.63 L224.79,478.05 L225.69,478.47 L226.59,478.89 L227.48,479.29 L228.38,479.69 L229.28,480.08 L230.18,480.46 L231.08,480.83 L231.98,481.2 L232.88,481.56 L233.78,481.91 L234.68,482.25 L235.58,482.59 L236.47,482.92 L237.37,483.25 L238.27,483.57 L239.17,483.88 L240.07,484.18 L240.97,484.48 L241.87,484.77 L242.77,485.06 L243.67,485.34 L244.57,485.62 L245.46,485.89 L246.36,486.15 L247.26,486.41 L248.16,486.66 L249.06,486.91 L249.96,487.15 L250.86,487.39 L251.76,487.62 L252.66,487.84 L253.56,488.07 L254.45,488.28 L255.35,488.49 L256.25,488.7 L257.15,488.9 L258.05,489.1 L258.95,489.3 L259.85,489.49 L260.75,489.67 L261.65,489.85 L262.55,490.03 L263.44,490.2 L264.34,490.37 L265.24,490.54 L266.14,490.7 L267.04,490.86 L267.94,491.01 L268.84,491.17 L269.74,491.31 L270.64,491.46 L271.54,491.6 L272.43,491.74 L273.33,491.87 L274.23,492 L275.13,492.13 L276.03,492.25 L276.93,492.38 L277.83,492.5 L278.73,492.61 L279.63,492.73 L280.53,492.84 L281.42,492.94 L282.32,493.05 L283.22,493.15 L284.12,493.25 L285.02,493.35 L285.92,493.45 L286.82,493.54 L287.72,493.63 L288.62,493.72 L289.52,493.81 L290.41,493.89 L291.31,493.98 L292.21,494.06 L293.11,494.14 L294.01,494.21 L294.91,494.29 L295.81,494.36 L296.71,494.43 L297.61,494.5 L298.51,494.57 L299.4,494.63 L300.3,494.7 L301.2,494.76 L302.1,494.82 L303,494.88" fill="none" stroke="#2c5e98" stroke-width="2.3" stroke-linejoin="round"/><path d="M34.2,497 L35.1,496.26 L36,495.54 L36.9,494.83 L37.8,494.13 L38.69,493.44 L39.59,492.76 L40.49,492.09 L41.39,491.42 L42.29,490.77 L43.19,490.12 L44.09,489.48 L44.99,488.84 L45.89,488.22 L46.79,487.59 L47.68,486.97 L48.58,486.36 L49.48,485.74 L50.38,485.14 L51.28,484.53 L52.18,483.93 L53.08,483.33 L53.98,482.73 L54.88,482.13 L55.78,481.53 L56.67,480.94 L57.57,480.34 L58.47,479.75 L59.37,479.15 L60.27,478.55 L61.17,477.95 L62.07,477.35 L62.97,476.75 L63.87,476.15 L64.77,475.54 L65.66,474.94 L66.56,474.33 L67.46,473.71 L68.36,473.09 L69.26,472.47 L70.16,471.85 L71.06,471.22 L71.96,470.59 L72.86,469.96 L73.76,469.32 L74.65,468.67 L75.55,468.02 L76.45,467.37 L77.35,466.71 L78.25,466.05 L79.15,465.38 L80.05,464.71 L80.95,464.03 L81.85,463.34 L82.75,462.65 L83.64,461.96 L84.54,461.25 L85.44,460.55 L86.34,459.83 L87.24,459.12 L88.14,458.39 L89.04,457.66 L89.94,456.93 L90.84,456.18 L91.74,455.44 L92.63,454.68 L93.53,453.92 L94.43,453.16 L95.33,452.39 L96.23,451.61 L97.13,450.83 L98.03,450.04 L98.93,449.24 L99.83,448.44 L100.73,447.64 L101.62,446.83 L102.52,446.01 L103.42,445.19 L104.32,444.36 L105.22,443.53 L106.12,442.69 L107.02,441.84 L107.92,441 L108.82,440.14 L109.72,439.28 L110.61,438.42 L111.51,437.55 L112.41,436.68 L113.31,435.81 L114.21,434.92 L115.11,434.04 L116.01,433.15 L116.91,432.26 L117.81,431.36 L118.71,430.46 L119.6,429.56 L120.5,428.65 L121.4,427.74 L122.3,426.83 L123.2,425.91 L124.1,424.99 L125,424.07 L125.9,423.14 L126.8,422.22 L127.7,421.29 L128.59,420.36 L129.49,419.42 L130.39,418.49 L131.29,417.55 L132.19,416.61 L133.09,415.67 L133.99,414.73 L134.89,413.79 L135.79,412.85 L136.69,411.91 L137.58,410.96 L138.48,410.02 L139.38,409.07 L140.28,408.13 L141.18,407.19 L142.08,406.24 L142.98,405.3 L143.88,404.35 L144.78,403.41 L145.68,402.47 L146.57,401.53 L147.47,400.59 L148.37,399.65 L149.27,398.71 L150.17,397.77 L151.07,396.84 L151.97,395.91 L152.87,394.98 L153.77,394.05 L154.67,393.12 L155.56,392.2 L156.46,391.27 L157.36,390.35 L158.26,389.44 L159.16,388.52 L160.06,387.61 L160.96,386.7 L161.86,385.8 L162.76,384.89 L163.66,384 L164.55,383.1 L165.45,382.21 L166.35,381.32 L167.25,380.43 L168.15,379.55 L169.05,378.68 L169.95,377.8 L170.85,376.93 L171.75,376.07 L172.65,375.21 L173.54,374.35 L174.44,373.5 L175.34,372.65 L176.24,371.81 L177.14,370.97 L178.04,370.14 L178.94,369.31 L179.84,368.49 L180.74,367.67 L181.64,366.85 L182.53,366.04 L183.43,365.24 L184.33,364.44 L185.23,363.65 L186.13,362.86 L187.03,362.07 L187.93,361.3 L188.83,360.52 L189.73,359.75 L190.63,358.99 L191.52,358.23 L192.42,357.48 L193.32,356.74 L194.22,356 L195.12,355.26 L196.02,354.53 L196.92,353.81 L197.82,353.09 L198.72,352.37 L199.62,351.67 L200.51,350.96 L201.41,350.27 L202.31,349.58 L203.21,348.89 L204.11,348.21 L205.01,347.54 L205.91,346.87 L206.81,346.21 L207.71,345.55 L208.61,344.9 L209.5,344.25 L210.4,343.61 L211.3,342.97 L212.2,342.35 L213.1,341.72 L214,341.1 L214.9,340.49 L215.8,339.88 L216.7,339.28 L217.6,338.68 L218.49,338.09 L219.39,337.5 L220.29,336.92 L221.19,336.35 L222.09,335.78 L222.99,335.21 L223.89,334.65 L224.79,334.1 L225.69,333.55 L226.59,333.01 L227.48,332.47 L228.38,331.93 L229.28,331.4 L230.18,330.88 L231.08,330.36 L231.98,329.85 L232.88,329.34 L233.78,328.83 L234.68,328.33 L235.58,327.84 L236.47,327.35 L237.37,326.86 L238.27,326.38 L239.17,325.91 L240.07,325.44 L240.97,324.97 L241.87,324.51 L242.77,324.05 L243.67,323.59 L244.57,323.14 L245.46,322.7 L246.36,322.26 L247.26,321.82 L248.16,321.39 L249.06,320.96 L249.96,320.53 L250.86,320.11 L251.76,319.7 L252.66,319.28 L253.56,318.88 L254.45,318.47 L255.35,318.07 L256.25,317.67 L257.15,317.28 L258.05,316.89 L258.95,316.5 L259.85,316.12 L260.75,315.74 L261.65,315.36 L262.55,314.99 L263.44,314.62 L264.34,314.25 L265.24,313.88 L266.14,313.52 L267.04,313.17 L267.94,312.81 L268.84,312.46 L269.74,312.11 L270.64,311.77 L271.54,311.42 L272.43,311.08 L273.33,310.74 L274.23,310.41 L275.13,310.08 L276.03,309.75 L276.93,309.42 L277.83,309.1 L278.73,308.77 L279.63,308.45 L280.53,308.14 L281.42,307.82 L282.32,307.51 L283.22,307.2 L284.12,306.89 L285.02,306.58 L285.92,306.28 L286.82,305.97 L287.72,305.67 L288.62,305.37 L289.52,305.08 L290.41,304.78 L291.31,304.49 L292.21,304.19 L293.11,303.9 L294.01,303.62 L294.91,303.33 L295.81,303.04 L296.71,302.76 L297.61,302.48 L298.51,302.19 L299.4,301.91 L300.3,301.64 L301.2,301.36 L302.1,301.08 L303,300.81" fill="none" stroke="#ffb910" stroke-width="2.4" stroke-dasharray="3.2 6" stroke-linecap="round"/><rect x="34.2" y="280.8" width="268.8" height="216.2" fill="none" stroke="#000" stroke-width="1.3"/><path d="M34.2,497h4 M34.2,469.98h4 M34.2,442.95h4 M34.2,415.93h4 M34.2,388.9h4 M34.2,361.88h4 M34.2,334.85h4 M34.2,307.83h4 M34.2,280.8h4 M303,497h-4 M303,475.38h-2 M303,453.76h-4 M303,432.14h-2 M303,410.52h-4 M303,388.9h-2 M303,367.28h-4 M303,345.66h-2 M303,324.04h-4 M303,302.42h-2 M303,280.8h-4 M34.2,497v-4 M61.08,497v-2 M87.96,497v-4 M114.84,497v-2 M141.72,497v-4 M168.6,497v-2 M195.48,497v-4 M222.36,497v-2 M249.24,497v-4 M276.12,497v-2 M303,497v-4" stroke="#000" stroke-width="1.2" fill="none"/><text x="29.5" y="501" text-anchor="end" font-size="12">0</text><text x="29.5" y="473.98" text-anchor="end" font-size="12">10</text><text x="29.5" y="446.95" text-anchor="end" font-size="12">20</text><text x="29.5" y="419.93" text-anchor="end" font-size="12">30</text><text x="29.5" y="392.9" text-anchor="end" font-size="12">40</text><text x="29.5" y="365.88" text-anchor="end" font-size="12">50</text><text x="29.5" y="338.85" text-anchor="end" font-size="12">60</text><text x="29.5" y="311.83" text-anchor="end" font-size="12">70</text><text x="29.5" y="284.8" text-anchor="end" font-size="12">80</text><text x="307.6" y="501" font-size="12">0.0</text><text x="307.6" y="457.76" font-size="12">0.2</text><text x="307.6" y="414.52" font-size="12">0.4</text><text x="307.6" y="371.28" font-size="12">0.6</text><text x="307.6" y="328.04" font-size="12">0.8</text><text x="307.6" y="284.8" font-size="12">1.0</text><text x="34.2" y="511.4" text-anchor="middle" font-size="12">0</text><text x="87.96" y="511.4" text-anchor="middle" font-size="12">1</text><text x="141.72" y="511.4" text-anchor="middle" font-size="12">2</text><text x="195.48" y="511.4" text-anchor="middle" font-size="12">3</text><text x="249.24" y="511.4" text-anchor="middle" font-size="12">4</text><text x="303" y="511.4" text-anchor="middle" font-size="12">5</text><text transform="translate(11.5,388.9) rotate(-90)" text-anchor="middle" font-weight="bold" font-size="14.3">Stress (MPa)</text><text transform="translate(338.4,388.9) rotate(-90)" text-anchor="middle" font-weight="bold" font-size="14.15">Damage variable</text><text x="135.8" y="526" font-weight="bold" font-size="14">Strain (10<tspan dx="0.3" dy="-5.8" font-size="9.5">-2</tspan><tspan dx="0.6" dy="5.8">)</tspan></text><text x="-0.6" y="286" font-weight="bold" font-size="14">(c)</text><path d="M164.8,390.5h26" stroke="#3ec46b" stroke-opacity="0.7" stroke-width="1.3"/><circle cx="177.8" cy="390.5" r="1.3" fill="#3ec46b"/><path d="M164.8,404.4h26" stroke="#2c5e98" stroke-opacity="0.75" stroke-width="1.3"/><rect x="176.8" y="403.4" width="2" height="2" fill="#2c5e98"/><path d="M166.5,418.1h23" stroke="#ffb910" stroke-width="2.4" stroke-dasharray="3.4 6.2" stroke-linecap="round"/><text x="193.5" y="394.6" font-size="11.25">Stress test value</text><text x="193.5" y="408.4" font-size="11.25">Stress calculation value</text><text x="194.8" y="422.2" font-size="11.25">Damage variable</text></g>
<g><rect x="390" y="287.7" width="45.9" height="16.3" fill="#fdd5ab"/><text x="412.95" y="299.45" text-anchor="middle" font-weight="bold" font-size="12">H/D=2.5</text><path d="M378.9,496.3 L379.39,496.4 L379.89,496.4 L380.38,496.32 L380.87,496.15 L381.37,495.89 L381.86,495.54 L382.36,495.12 L382.85,494.6 L383.34,494.01 L383.84,493.34 L384.33,492.59 L384.82,491.77 L385.32,490.87 L385.81,489.9 L386.3,488.86 L386.8,487.75 L387.29,486.57 L387.78,485.32 L388.28,484.01 L388.77,482.64 L389.27,481.21 L389.76,479.71 L390.25,478.16 L390.75,476.55 L391.24,474.88 L391.73,473.17 L392.23,471.4 L392.72,469.58 L393.21,467.71 L393.71,465.79 L394.2,463.83 L394.7,461.82 L395.19,459.78 L395.68,457.69 L396.18,455.57 L396.67,453.41 L397.16,451.23 L397.66,449.03 L398.15,446.81 L398.64,444.57 L399.14,442.32 L399.63,440.06 L400.12,437.8 L400.62,435.54 L401.11,433.28 L401.61,431.03 L402.1,428.76 L402.59,426.48 L403.09,424.18 L403.58,421.83 L404.07,419.44 L404.57,416.98 L405.06,414.47 L405.55,411.88 L406.05,409.24 L406.54,406.54 L407.04,403.78 L407.53,400.97 L408.02,398.11 L408.52,395.23 L409.01,392.33 L409.5,389.42 L410,386.52 L410.49,383.63 L410.98,380.76 L411.48,377.93 L411.97,375.15 L412.46,372.43 L412.96,369.77 L413.45,367.2 L413.95,364.72 L414.44,362.35 L414.93,360.08 L415.43,357.95 L415.92,355.94 L416.41,354.09 L416.91,352.4 L417.4,350.87 L417.89,349.52 L418.39,348.34 L418.88,347.33 L419.38,346.47 L419.87,345.75 L420.36,345.17 L420.86,344.71 L421.35,344.37 L421.84,344.14 L422.34,344 L422.83,343.96 L423.13,343.97 L423.43,344 L423.74,344.05 L424.04,344.12 L424.34,344.2 L424.64,344.3 L424.94,344.42 L425.24,344.56 L425.55,344.71 L425.85,344.88 L426.15,345.06 L426.45,345.25 L426.75,345.45 L427.06,345.67 L427.36,345.9 L427.66,346.14 L427.96,346.39 L428.26,346.65 L428.56,346.92 L428.87,347.2 L429.17,347.55 L429.47,348 L429.77,348.54 L430.07,349.16 L430.37,349.86 L430.68,350.62 L430.98,351.44 L431.28,352.31 L431.58,353.23 L431.88,354.19 L432.19,355.3 L432.49,356.58 L432.79,358.01 L433.09,359.57 L433.39,361.26 L433.69,363.06 L434,364.95 L434.3,366.93 L434.6,368.98" fill="none" stroke="#3ec46b" stroke-width="2.2" stroke-linejoin="round"/><path d="M378.9,496.3 L379.8,490.33 L380.69,484.57 L381.59,478.85 L382.49,473 L383.38,467.25 L384.28,461.6 L385.17,456.06 L386.07,450.65 L386.97,445.38 L387.86,440.26 L388.76,435.3 L389.66,430.52 L390.55,425.92 L391.45,421.51 L392.34,417.27 L393.24,413.19 L394.14,409.27 L395.03,405.48 L395.93,401.8 L396.83,398.22 L397.72,394.72 L398.62,391.3 L399.52,387.97 L400.41,384.72 L401.31,381.57 L402.2,378.52 L403.1,375.58 L404,372.76 L404.89,370.07 L405.79,367.51 L406.69,365.08 L407.58,362.8 L408.48,360.65 L409.37,358.65 L410.27,356.78 L411.17,355.05 L412.06,353.46 L412.96,352.05 L413.86,350.8 L414.75,349.67 L415.65,348.66 L416.55,347.76 L417.44,346.97 L418.34,346.28 L419.23,345.69 L420.13,345.19 L421.03,344.78 L421.92,344.44 L422.82,344.19 L423.72,344 L424.61,343.87 L425.51,343.83 L426.41,343.87 L427.3,343.99 L428.2,344.18 L429.09,344.45 L429.99,344.8 L430.89,345.21 L431.78,345.69 L432.68,346.24 L433.58,346.84 L434.47,347.51 L435.37,348.24 L436.26,349.02 L437.16,349.86 L438.06,350.75 L438.95,351.69 L439.85,352.68 L440.75,353.71 L441.64,354.78 L442.54,355.9 L443.44,357.05 L444.33,358.24 L445.23,359.47 L446.12,360.73 L447.02,362.02 L447.92,363.34 L448.81,364.69 L449.71,366.06 L450.61,367.46 L451.5,368.88 L452.4,370.32 L453.29,371.78 L454.19,373.26 L455.09,374.75 L455.98,376.26 L456.88,377.78 L457.78,379.31 L458.67,380.85 L459.57,382.41 L460.47,383.97 L461.36,385.53 L462.26,387.1 L463.15,388.68 L464.05,390.25 L464.95,391.83 L465.84,393.41 L466.74,394.99 L467.64,396.57 L468.53,398.14 L469.43,399.72 L470.32,401.28 L471.22,402.85 L472.12,404.4 L473.01,405.95 L473.91,407.5 L474.81,409.03 L475.7,410.56 L476.6,412.07 L477.5,413.58 L478.39,415.08 L479.29,416.56 L480.18,418.03 L481.08,419.49 L481.98,420.94 L482.87,422.38 L483.77,423.8 L484.67,425.2 L485.56,426.6 L486.46,427.97 L487.35,429.34 L488.25,430.69 L489.15,432.02 L490.04,433.33 L490.94,434.63 L491.84,435.92 L492.73,437.18 L493.63,438.43 L494.53,439.67 L495.42,440.89 L496.32,442.08 L497.21,443.27 L498.11,444.43 L499.01,445.58 L499.9,446.71 L500.8,447.82 L501.7,448.92 L502.59,450 L503.49,451.06 L504.38,452.1 L505.28,453.13 L506.18,454.14 L507.07,455.13 L507.97,456.11 L508.87,457.06 L509.76,458 L510.66,458.93 L511.56,459.83 L512.45,460.72 L513.35,461.6 L514.24,462.45 L515.14,463.29 L516.04,464.12 L516.93,464.93 L517.83,465.72 L518.73,466.49 L519.62,467.25 L520.52,468 L521.42,468.73 L522.31,469.44 L523.21,470.14 L524.1,470.83 L525,471.5 L525.9,472.16 L526.79,472.8 L527.69,473.43 L528.59,474.04 L529.48,474.64 L530.38,475.23 L531.27,475.8 L532.17,476.36 L533.07,476.91 L533.96,477.44 L534.86,477.97 L535.76,478.48 L536.65,478.98 L537.55,479.46 L538.45,479.94 L539.34,480.4 L540.24,480.85 L541.13,481.29 L542.03,481.73 L542.93,482.15 L543.82,482.55 L544.72,482.95 L545.62,483.34 L546.51,483.72 L547.41,484.09 L548.3,484.45 L549.2,484.8 L550.1,485.15 L550.99,485.48 L551.89,485.8 L552.79,486.12 L553.68,486.43 L554.58,486.73 L555.48,487.02 L556.37,487.3 L557.27,487.58 L558.16,487.84 L559.06,488.1 L559.96,488.36 L560.85,488.6 L561.75,488.84 L562.65,489.08 L563.54,489.3 L564.44,489.53 L565.33,489.74 L566.23,489.95 L567.13,490.15 L568.02,490.35 L568.92,490.54 L569.82,490.72 L570.71,490.9 L571.61,491.08 L572.51,491.25 L573.4,491.41 L574.3,491.57 L575.19,491.72 L576.09,491.87 L576.99,492.02 L577.88,492.16 L578.78,492.3 L579.68,492.43 L580.57,492.56 L581.47,492.69 L582.36,492.81 L583.26,492.92 L584.16,493.04 L585.05,493.15 L585.95,493.26 L586.85,493.36 L587.74,493.46 L588.64,493.56 L589.54,493.65 L590.43,493.74 L591.33,493.83 L592.22,493.92 L593.12,494 L594.02,494.08 L594.91,494.16 L595.81,494.23 L596.71,494.3 L597.6,494.37 L598.5,494.44 L599.39,494.51 L600.29,494.57 L601.19,494.63 L602.08,494.69 L602.98,494.75 L603.88,494.8 L604.77,494.86 L605.67,494.91 L606.57,494.96 L607.46,495.01 L608.36,495.06 L609.25,495.1 L610.15,495.14 L611.05,495.19 L611.94,495.23 L612.84,495.27 L613.74,495.3 L614.63,495.34 L615.53,495.38 L616.43,495.41 L617.32,495.44 L618.22,495.48 L619.11,495.51 L620.01,495.54 L620.91,495.57 L621.8,495.59 L622.7,495.62 L623.6,495.65 L624.49,495.67 L625.39,495.69 L626.28,495.72 L627.18,495.74 L628.08,495.76 L628.97,495.78 L629.87,495.8 L630.77,495.82 L631.66,495.84 L632.56,495.86 L633.46,495.87 L634.35,495.89 L635.25,495.91 L636.14,495.92 L637.04,495.94 L637.94,495.95 L638.83,495.96 L639.73,495.98 L640.63,495.99 L641.52,496 L642.42,496.01 L643.31,496.03 L644.21,496.04 L645.11,496.05 L646,496.06 L646.9,496.07" fill="none" stroke="#2c5e98" stroke-width="2.3" stroke-linejoin="round"/><path d="M378.9,496.3 L379.8,495.52 L380.69,494.76 L381.59,494.01 L382.49,493.28 L383.38,492.57 L384.28,491.87 L385.17,491.18 L386.07,490.5 L386.97,489.83 L387.86,489.18 L388.76,488.53 L389.66,487.9 L390.55,487.27 L391.45,486.65 L392.34,486.03 L393.24,485.43 L394.14,484.83 L395.03,484.23 L395.93,483.64 L396.83,483.06 L397.72,482.47 L398.62,481.9 L399.52,481.32 L400.41,480.75 L401.31,480.17 L402.2,479.6 L403.1,479.03 L404,478.47 L404.89,477.9 L405.79,477.33 L406.69,476.76 L407.58,476.19 L408.48,475.62 L409.37,475.04 L410.27,474.47 L411.17,473.89 L412.06,473.31 L412.96,472.72 L413.86,472.14 L414.75,471.55 L415.65,470.95 L416.55,470.35 L417.44,469.75 L418.34,469.14 L419.23,468.53 L420.13,467.91 L421.03,467.29 L421.92,466.66 L422.82,466.03 L423.72,465.39 L424.61,464.75 L425.51,464.1 L426.41,463.44 L427.3,462.78 L428.2,462.11 L429.09,461.44 L429.99,460.76 L430.89,460.07 L431.78,459.37 L432.68,458.67 L433.58,457.97 L434.47,457.25 L435.37,456.53 L436.26,455.8 L437.16,455.07 L438.06,454.33 L438.95,453.58 L439.85,452.82 L440.75,452.06 L441.64,451.29 L442.54,450.51 L443.44,449.73 L444.33,448.94 L445.23,448.15 L446.12,447.35 L447.02,446.54 L447.92,445.72 L448.81,444.9 L449.71,444.07 L450.61,443.24 L451.5,442.4 L452.4,441.55 L453.29,440.7 L454.19,439.84 L455.09,438.98 L455.98,438.11 L456.88,437.24 L457.78,436.36 L458.67,435.47 L459.57,434.58 L460.47,433.69 L461.36,432.79 L462.26,431.89 L463.15,430.98 L464.05,430.07 L464.95,429.15 L465.84,428.23 L466.74,427.31 L467.64,426.38 L468.53,425.45 L469.43,424.51 L470.32,423.58 L471.22,422.64 L472.12,421.69 L473.01,420.75 L473.91,419.8 L474.81,418.85 L475.7,417.9 L476.6,416.95 L477.5,415.99 L478.39,415.03 L479.29,414.07 L480.18,413.12 L481.08,412.15 L481.98,411.19 L482.87,410.23 L483.77,409.27 L484.67,408.31 L485.56,407.34 L486.46,406.38 L487.35,405.42 L488.25,404.46 L489.15,403.5 L490.04,402.54 L490.94,401.58 L491.84,400.62 L492.73,399.66 L493.63,398.71 L494.53,397.75 L495.42,396.8 L496.32,395.85 L497.21,394.9 L498.11,393.95 L499.01,393.01 L499.9,392.07 L500.8,391.13 L501.7,390.19 L502.59,389.26 L503.49,388.33 L504.38,387.4 L505.28,386.48 L506.18,385.56 L507.07,384.64 L507.97,383.73 L508.87,382.82 L509.76,381.92 L510.66,381.02 L511.56,380.12 L512.45,379.22 L513.35,378.34 L514.24,377.45 L515.14,376.57 L516.04,375.7 L516.93,374.83 L517.83,373.96 L518.73,373.1 L519.62,372.24 L520.52,371.39 L521.42,370.54 L522.31,369.7 L523.21,368.87 L524.1,368.04 L525,367.21 L525.9,366.39 L526.79,365.58 L527.69,364.77 L528.59,363.96 L529.48,363.17 L530.38,362.37 L531.27,361.59 L532.17,360.81 L533.07,360.03 L533.96,359.26 L534.86,358.5 L535.76,357.74 L536.65,356.99 L537.55,356.24 L538.45,355.5 L539.34,354.76 L540.24,354.03 L541.13,353.31 L542.03,352.59 L542.93,351.88 L543.82,351.18 L544.72,350.48 L545.62,349.78 L546.51,349.1 L547.41,348.41 L548.3,347.74 L549.2,347.07 L550.1,346.4 L550.99,345.75 L551.89,345.09 L552.79,344.45 L553.68,343.8 L554.58,343.17 L555.48,342.54 L556.37,341.92 L557.27,341.3 L558.16,340.69 L559.06,340.08 L559.96,339.48 L560.85,338.88 L561.75,338.29 L562.65,337.71 L563.54,337.13 L564.44,336.56 L565.33,335.99 L566.23,335.43 L567.13,334.87 L568.02,334.32 L568.92,333.77 L569.82,333.23 L570.71,332.69 L571.61,332.16 L572.51,331.63 L573.4,331.11 L574.3,330.6 L575.19,330.09 L576.09,329.58 L576.99,329.08 L577.88,328.58 L578.78,328.09 L579.68,327.6 L580.57,327.12 L581.47,326.64 L582.36,326.17 L583.26,325.7 L584.16,325.23 L585.05,324.77 L585.95,324.32 L586.85,323.87 L587.74,323.42 L588.64,322.98 L589.54,322.54 L590.43,322.1 L591.33,321.67 L592.22,321.24 L593.12,320.82 L594.02,320.4 L594.91,319.99 L595.81,319.57 L596.71,319.17 L597.6,318.76 L598.5,318.36 L599.39,317.97 L600.29,317.57 L601.19,317.18 L602.08,316.79 L602.98,316.41 L603.88,316.03 L604.77,315.65 L605.67,315.28 L606.57,314.91 L607.46,314.54 L608.36,314.18 L609.25,313.82 L610.15,313.46 L611.05,313.1 L611.94,312.75 L612.84,312.4 L613.74,312.05 L614.63,311.7 L615.53,311.36 L616.43,311.02 L617.32,310.69 L618.22,310.35 L619.11,310.02 L620.01,309.69 L620.91,309.36 L621.8,309.04 L622.7,308.71 L623.6,308.39 L624.49,308.07 L625.39,307.76 L626.28,307.44 L627.18,307.13 L628.08,306.82 L628.97,306.51 L629.87,306.21 L630.77,305.9 L631.66,305.6 L632.56,305.3 L633.46,305 L634.35,304.71 L635.25,304.41 L636.14,304.12 L637.04,303.83 L637.94,303.54 L638.83,303.25 L639.73,302.96 L640.63,302.68 L641.52,302.4 L642.42,302.11 L643.31,301.83 L644.21,301.56 L645.11,301.28 L646,301 L646.9,300.73" fill="none" stroke="#ffb910" stroke-width="2.4" stroke-dasharray="3.2 6" stroke-linecap="round"/><rect x="378.9" y="280.5" width="268" height="215.8" fill="none" stroke="#000" stroke-width="1.3"/><path d="M378.9,496.3h4 M378.9,469.32h4 M378.9,442.35h4 M378.9,415.38h4 M378.9,388.4h4 M378.9,361.43h4 M378.9,334.45h4 M378.9,307.48h4 M378.9,280.5h4 M646.9,496.3h-4 M646.9,474.72h-2 M646.9,453.14h-4 M646.9,431.56h-2 M646.9,409.98h-4 M646.9,388.4h-2 M646.9,366.82h-4 M646.9,345.24h-2 M646.9,323.66h-4 M646.9,302.08h-2 M646.9,280.5h-4 M378.9,496.3v-4 M401.23,496.3v-2 M423.57,496.3v-4 M445.9,496.3v-2 M468.23,496.3v-4 M490.57,496.3v-2 M512.9,496.3v-4 M535.23,496.3v-2 M557.57,496.3v-4 M579.9,496.3v-2 M602.23,496.3v-4 M624.57,496.3v-2 M646.9,496.3v-4" stroke="#000" stroke-width="1.2" fill="none"/><text x="374.2" y="500.3" text-anchor="end" font-size="12">0</text><text x="374.2" y="473.32" text-anchor="end" font-size="12">10</text><text x="374.2" y="446.35" text-anchor="end" font-size="12">20</text><text x="374.2" y="419.38" text-anchor="end" font-size="12">30</text><text x="374.2" y="392.4" text-anchor="end" font-size="12">40</text><text x="374.2" y="365.43" text-anchor="end" font-size="12">50</text><text x="374.2" y="338.45" text-anchor="end" font-size="12">60</text><text x="374.2" y="311.48" text-anchor="end" font-size="12">70</text><text x="374.2" y="284.5" text-anchor="end" font-size="12">80</text><text x="651.5" y="500.3" font-size="12">0.0</text><text x="651.5" y="457.14" font-size="12">0.2</text><text x="651.5" y="413.98" font-size="12">0.4</text><text x="651.5" y="370.82" font-size="12">0.6</text><text x="651.5" y="327.66" font-size="12">0.8</text><text x="651.5" y="284.5" font-size="12">1.0</text><text x="378.9" y="510.9" text-anchor="middle" font-size="12">0</text><text x="423.57" y="510.9" text-anchor="middle" font-size="12">1</text><text x="468.23" y="510.9" text-anchor="middle" font-size="12">2</text><text x="512.9" y="510.9" text-anchor="middle" font-size="12">3</text><text x="557.57" y="510.9" text-anchor="middle" font-size="12">4</text><text x="602.23" y="510.9" text-anchor="middle" font-size="12">5</text><text x="646.9" y="510.9" text-anchor="middle" font-size="12">6</text><text transform="translate(356.8,388.4) rotate(-90)" text-anchor="middle" font-weight="bold" font-size="14.3">Stress (MPa)</text><text transform="translate(681.9,388.4) rotate(-90)" text-anchor="middle" font-weight="bold" font-size="14.15">Damage variable</text><text x="479.9" y="526.6" font-weight="bold" font-size="14">Strain (10<tspan dx="0.3" dy="-5.8" font-size="9.5">-2</tspan><tspan dx="0.6" dy="5.8">)</tspan></text><text x="343.2" y="286.3" font-weight="bold" font-size="14">(d)</text><path d="M505.5,406h26" stroke="#3ec46b" stroke-opacity="0.7" stroke-width="1.3"/><circle cx="518.5" cy="406" r="1.3" fill="#3ec46b"/><path d="M505.5,419.9h26" stroke="#2c5e98" stroke-opacity="0.75" stroke-width="1.3"/><rect x="517.5" y="418.9" width="2" height="2" fill="#2c5e98"/><path d="M507.2,433.6h23" stroke="#ffb910" stroke-width="2.4" stroke-dasharray="3.4 6.2" stroke-linecap="round"/><text x="534.2" y="410.1" font-size="11.25">Stress test value</text><text x="534.2" y="423.9" font-size="11.25">Stress calculation value</text><text x="535.5" y="437.7" font-size="11.25">Damage variable</text></g>
<g><rect x="191" y="566" width="46" height="16.8" fill="#fdd5ab"/><text x="215.1" y="578" text-anchor="middle" font-weight="bold" font-size="12">H/D=3</text><path d="M182.4,772.8 L183.16,772.04 L183.92,771.28 L184.68,770.53 L185.44,769.77 L186.2,769.01 L186.95,768.25 L187.71,767.47 L188.47,766.69 L189.23,765.89 L189.99,765.07 L190.75,764.23 L191.51,763.37 L192.27,762.48 L193.03,761.56 L193.79,760.61 L194.55,759.63 L195.31,758.6 L196.06,757.54 L196.82,756.44 L197.58,755.28 L198.34,754.08 L199.1,752.83 L199.86,751.52 L200.62,750.16 L201.38,748.73 L202.14,747.24 L202.9,745.69 L203.66,744.07 L204.42,742.37 L205.17,740.6 L205.93,738.75 L206.69,736.83 L207.45,734.82 L208.21,732.73 L208.97,730.56 L209.73,728.33 L210.49,726.03 L211.25,723.68 L212.01,721.27 L212.77,718.81 L213.52,716.31 L214.28,713.77 L215.04,711.2 L215.8,708.6 L216.56,705.98 L217.32,703.34 L218.08,700.69 L218.84,698.03 L219.6,695.38 L220.36,692.72 L221.12,690.08 L221.88,687.45 L222.63,684.84 L223.39,682.26 L224.15,679.7 L224.91,677.17 L225.67,674.68 L226.43,672.22 L227.19,669.81 L227.95,667.44 L228.71,665.13 L229.47,662.86 L230.23,660.65 L230.99,658.51 L231.74,656.42 L232.5,654.41 L233.26,652.46 L234.02,650.59 L234.78,648.8 L235.54,647.1 L236.3,645.48 L237.06,643.95 L237.82,642.51 L238.58,641.17 L239.34,639.92 L240.09,638.76 L240.85,637.7 L241.61,636.72 L242.37,635.84 L243.13,635.04 L243.89,634.33 L244.65,633.71 L245.41,633.17 L246.17,632.72 L246.93,632.35 L247.69,632.07 L248.45,631.87 L249.2,631.75 L249.96,631.71 L250.42,631.73 L250.88,631.79 L251.33,631.87 L251.79,631.99 L252.25,632.14 L252.71,632.32 L253.16,632.52 L253.62,632.75 L254.08,632.99 L254.53,633.25 L254.99,633.54 L255.45,633.83 L255.9,634.14 L256.36,634.45 L256.82,634.78 L257.28,635.11 L257.73,635.53 L258.19,636.05 L258.65,636.67 L259.1,637.35 L259.56,638.09 L260.02,638.86 L260.47,639.64 L260.93,640.43 L261.39,641.2 L261.85,641.92 L262.3,642.6 L262.76,643.27 L263.22,643.94 L263.67,644.61 L264.13,645.28 L264.59,645.95 L265.04,646.61 L265.5,647.28 L265.96,647.94 L266.42,648.61 L266.87,649.27 L267.33,649.93 L267.79,650.59" fill="none" stroke="#3ec46b" stroke-width="2.2" stroke-linejoin="round"/><path d="M182.4,772.8 L183.3,769.18 L184.19,765.63 L185.09,762.1 L185.99,758.6 L186.89,755.07 L187.78,751.54 L188.68,748.04 L189.58,744.58 L190.48,741.16 L191.37,737.79 L192.27,734.45 L193.17,731.17 L194.07,727.94 L194.96,724.75 L195.86,721.62 L196.76,718.55 L197.65,715.54 L198.55,712.58 L199.45,709.69 L200.35,706.87 L201.24,704.1 L202.14,701.41 L203.04,698.78 L203.94,696.21 L204.83,693.71 L205.73,691.27 L206.63,688.9 L207.53,686.57 L208.42,684.31 L209.32,682.09 L210.22,679.92 L211.11,677.79 L212.01,675.69 L212.91,673.63 L213.81,671.61 L214.7,669.62 L215.6,667.65 L216.5,665.72 L217.4,663.83 L218.29,661.97 L219.19,660.14 L220.09,658.36 L220.98,656.61 L221.88,654.92 L222.78,653.27 L223.68,651.67 L224.57,650.12 L225.47,648.64 L226.37,647.21 L227.27,645.85 L228.16,644.56 L229.06,643.33 L229.96,642.18 L230.86,641.09 L231.75,640.08 L232.65,639.13 L233.55,638.32 L234.44,637.58 L235.34,636.89 L236.24,636.25 L237.14,635.65 L238.03,635.1 L238.93,634.59 L239.83,634.12 L240.73,633.69 L241.62,633.29 L242.52,632.93 L243.42,632.6 L244.32,632.31 L245.21,632.05 L246.11,631.83 L247.01,631.64 L247.9,631.49 L248.8,631.36 L249.7,631.26 L250.6,631.17 L251.49,631.12 L252.39,631.1 L253.29,631.12 L254.19,631.17 L255.08,631.25 L255.98,631.37 L256.88,631.51 L257.78,631.69 L258.67,631.9 L259.57,632.14 L260.47,632.41 L261.36,632.7 L262.26,633.03 L263.16,633.38 L264.06,633.75 L264.95,634.16 L265.85,634.59 L266.75,635.04 L267.65,635.51 L268.54,636.01 L269.44,636.54 L270.34,637.08 L271.24,637.65 L272.13,638.23 L273.03,638.84 L273.93,639.47 L274.82,640.11 L275.72,640.78 L276.62,641.46 L277.52,642.16 L278.41,642.87 L279.31,643.6 L280.21,644.35 L281.11,645.11 L282,645.89 L282.9,646.68 L283.8,647.49 L284.69,648.3 L285.59,649.13 L286.49,649.97 L287.39,650.82 L288.28,651.69 L289.18,652.56 L290.08,653.44 L290.98,654.33 L291.87,655.23 L292.77,656.14 L293.67,657.06 L294.57,657.99 L295.46,658.92 L296.36,659.86 L297.26,660.8 L298.15,661.75 L299.05,662.71 L299.95,663.67 L300.85,664.63 L301.74,665.6 L302.64,666.57 L303.54,667.55 L304.44,668.53 L305.33,669.51 L306.23,670.5 L307.13,671.48 L308.03,672.47 L308.92,673.46 L309.82,674.45 L310.72,675.44 L311.61,676.43 L312.51,677.43 L313.41,678.42 L314.31,679.41 L315.2,680.4 L316.1,681.39 L317,682.38 L317.9,683.36 L318.79,684.35 L319.69,685.33 L320.59,686.31 L321.49,687.29 L322.38,688.26 L323.28,689.23 L324.18,690.2 L325.07,691.17 L325.97,692.13 L326.87,693.09 L327.77,694.04 L328.66,694.99 L329.56,695.94 L330.46,696.88 L331.36,697.81 L332.25,698.74 L333.15,699.67 L334.05,700.59 L334.95,701.51 L335.84,702.42 L336.74,703.32 L337.64,704.22 L338.53,705.12 L339.43,706.01 L340.33,706.89 L341.23,707.76 L342.12,708.63 L343.02,709.5 L343.92,710.35 L344.82,711.2 L345.71,712.05 L346.61,712.89 L347.51,713.72 L348.41,714.54 L349.3,715.36 L350.2,716.17 L351.1,716.97 L351.99,717.77 L352.89,718.56 L353.79,719.34 L354.69,720.11 L355.58,720.88 L356.48,721.64 L357.38,722.39 L358.28,723.14 L359.17,723.88 L360.07,724.61 L360.97,725.33 L361.86,726.05 L362.76,726.76 L363.66,727.46 L364.56,728.16 L365.45,728.84 L366.35,729.52 L367.25,730.2 L368.15,730.86 L369.04,731.52 L369.94,732.17 L370.84,732.81 L371.74,733.45 L372.63,734.07 L373.53,734.7 L374.43,735.31 L375.32,735.91 L376.22,736.51 L377.12,737.11 L378.02,737.69 L378.91,738.27 L379.81,738.84 L380.71,739.4 L381.61,739.96 L382.5,740.5 L383.4,741.05 L384.3,741.58 L385.2,742.11 L386.09,742.63 L386.99,743.14 L387.89,743.65 L388.78,744.15 L389.68,744.64 L390.58,745.13 L391.48,745.61 L392.37,746.09 L393.27,746.55 L394.17,747.01 L395.07,747.47 L395.96,747.91 L396.86,748.36 L397.76,748.79 L398.66,749.22 L399.55,749.64 L400.45,750.06 L401.35,750.47 L402.24,750.87 L403.14,751.27 L404.04,751.66 L404.94,752.05 L405.83,752.43 L406.73,752.81 L407.63,753.18 L408.53,753.54 L409.42,753.9 L410.32,754.25 L411.22,754.6 L412.12,754.94 L413.01,755.27 L413.91,755.6 L414.81,755.93 L415.7,756.25 L416.6,756.57 L417.5,756.88 L418.4,757.18 L419.29,757.48 L420.19,757.78 L421.09,758.07 L421.99,758.35 L422.88,758.63 L423.78,758.91 L424.68,759.18 L425.57,759.45 L426.47,759.71 L427.37,759.97 L428.27,760.22 L429.16,760.47 L430.06,760.72 L430.96,760.96 L431.86,761.2 L432.75,761.43 L433.65,761.66 L434.55,761.88 L435.45,762.1 L436.34,762.32 L437.24,762.53 L438.14,762.74 L439.03,762.95 L439.93,763.15 L440.83,763.35 L441.73,763.54 L442.62,763.73 L443.52,763.92 L444.42,764.1 L445.32,764.28 L446.21,764.46 L447.11,764.64 L448.01,764.81 L448.91,764.98 L449.8,765.14 L450.7,765.3" fill="none" stroke="#2c5e98" stroke-width="2.3" stroke-linejoin="round"/><path d="M182.4,772.8 L183.3,771.99 L184.19,771.16 L185.09,770.33 L185.99,769.49 L186.89,768.64 L187.78,767.77 L188.68,766.9 L189.58,766.02 L190.48,765.13 L191.37,764.23 L192.27,763.32 L193.17,762.41 L194.07,761.48 L194.96,760.55 L195.86,759.61 L196.76,758.66 L197.65,757.71 L198.55,756.75 L199.45,755.78 L200.35,754.81 L201.24,753.82 L202.14,752.84 L203.04,751.84 L203.94,750.84 L204.83,749.84 L205.73,748.83 L206.63,747.81 L207.53,746.79 L208.42,745.76 L209.32,744.73 L210.22,743.7 L211.11,742.66 L212.01,741.61 L212.91,740.56 L213.81,739.51 L214.7,738.46 L215.6,737.4 L216.5,736.34 L217.4,735.27 L218.29,734.21 L219.19,733.14 L220.09,732.06 L220.98,730.99 L221.88,729.91 L222.78,728.83 L223.68,727.75 L224.57,726.67 L225.47,725.58 L226.37,724.5 L227.27,723.41 L228.16,722.33 L229.06,721.24 L229.96,720.15 L230.86,719.06 L231.75,717.97 L232.65,716.88 L233.55,715.79 L234.44,714.7 L235.34,713.61 L236.24,712.52 L237.14,711.44 L238.03,710.35 L238.93,709.26 L239.83,708.17 L240.73,707.09 L241.62,706.01 L242.52,704.92 L243.42,703.84 L244.32,702.76 L245.21,701.68 L246.11,700.61 L247.01,699.53 L247.9,698.46 L248.8,697.39 L249.7,696.33 L250.6,695.26 L251.49,694.2 L252.39,693.14 L253.29,692.08 L254.19,691.03 L255.08,689.97 L255.98,688.92 L256.88,687.88 L257.78,686.84 L258.67,685.8 L259.57,684.76 L260.47,683.73 L261.36,682.7 L262.26,681.67 L263.16,680.65 L264.06,679.64 L264.95,678.62 L265.85,677.61 L266.75,676.6 L267.65,675.6 L268.54,674.6 L269.44,673.61 L270.34,672.62 L271.24,671.64 L272.13,670.66 L273.03,669.68 L273.93,668.71 L274.82,667.74 L275.72,666.78 L276.62,665.82 L277.52,664.87 L278.41,663.92 L279.31,662.97 L280.21,662.04 L281.11,661.1 L282,660.17 L282.9,659.25 L283.8,658.33 L284.69,657.42 L285.59,656.51 L286.49,655.6 L287.39,654.7 L288.28,653.81 L289.18,652.92 L290.08,652.04 L290.98,651.16 L291.87,650.29 L292.77,649.42 L293.67,648.56 L294.57,647.71 L295.46,646.86 L296.36,646.01 L297.26,645.17 L298.15,644.34 L299.05,643.51 L299.95,642.68 L300.85,641.87 L301.74,641.05 L302.64,640.25 L303.54,639.44 L304.44,638.65 L305.33,637.86 L306.23,637.07 L307.13,636.29 L308.03,635.52 L308.92,634.75 L309.82,633.99 L310.72,633.23 L311.61,632.48 L312.51,631.73 L313.41,630.99 L314.31,630.26 L315.2,629.53 L316.1,628.81 L317,628.09 L317.9,627.38 L318.79,626.67 L319.69,625.97 L320.59,625.27 L321.49,624.58 L322.38,623.89 L323.28,623.21 L324.18,622.54 L325.07,621.87 L325.97,621.21 L326.87,620.55 L327.77,619.9 L328.66,619.25 L329.56,618.61 L330.46,617.97 L331.36,617.34 L332.25,616.72 L333.15,616.09 L334.05,615.48 L334.95,614.87 L335.84,614.26 L336.74,613.67 L337.64,613.07 L338.53,612.48 L339.43,611.9 L340.33,611.32 L341.23,610.75 L342.12,610.18 L343.02,609.61 L343.92,609.05 L344.82,608.5 L345.71,607.95 L346.61,607.41 L347.51,606.87 L348.41,606.34 L349.3,605.81 L350.2,605.28 L351.1,604.76 L351.99,604.25 L352.89,603.74 L353.79,603.24 L354.69,602.74 L355.58,602.24 L356.48,601.75 L357.38,601.26 L358.28,600.78 L359.17,600.3 L360.07,599.83 L360.97,599.36 L361.86,598.9 L362.76,598.44 L363.66,597.99 L364.56,597.54 L365.45,597.09 L366.35,596.65 L367.25,596.21 L368.15,595.78 L369.04,595.35 L369.94,594.93 L370.84,594.51 L371.74,594.09 L372.63,593.68 L373.53,593.27 L374.43,592.87 L375.32,592.47 L376.22,592.07 L377.12,591.68 L378.02,591.3 L378.91,590.91 L379.81,590.53 L380.71,590.16 L381.61,589.78 L382.5,589.42 L383.4,589.05 L384.3,588.69 L385.2,588.33 L386.09,587.98 L386.99,587.63 L387.89,587.28 L388.78,586.94 L389.68,586.6 L390.58,586.27 L391.48,585.94 L392.37,585.61 L393.27,585.28 L394.17,584.96 L395.07,584.64 L395.96,584.33 L396.86,584.02 L397.76,583.71 L398.66,583.4 L399.55,583.1 L400.45,582.8 L401.35,582.51 L402.24,582.21 L403.14,581.93 L404.04,581.64 L404.94,581.36 L405.83,581.08 L406.73,580.8 L407.63,580.53 L408.53,580.25 L409.42,579.99 L410.32,579.72 L411.22,579.46 L412.12,579.2 L413.01,578.94 L413.91,578.69 L414.81,578.44 L415.7,578.19 L416.6,577.94 L417.5,577.7 L418.4,577.46 L419.29,577.22 L420.19,576.99 L421.09,576.76 L421.99,576.53 L422.88,576.3 L423.78,576.08 L424.68,575.85 L425.57,575.63 L426.47,575.42 L427.37,575.2 L428.27,574.99 L429.16,574.78 L430.06,574.57 L430.96,574.36 L431.86,574.16 L432.75,573.96 L433.65,573.76 L434.55,573.56 L435.45,573.37 L436.34,573.18 L437.24,572.99 L438.14,572.8 L439.03,572.61 L439.93,572.43 L440.83,572.25 L441.73,572.07 L442.62,571.89 L443.52,571.72 L444.42,571.54 L445.32,571.37 L446.21,571.2 L447.11,571.03 L448.01,570.87 L448.91,570.7 L449.8,570.54 L450.7,570.38" fill="none" stroke="#ffb910" stroke-width="2.4" stroke-dasharray="3.2 6" stroke-linecap="round"/><rect x="182.4" y="558.4" width="268.3" height="214.4" fill="none" stroke="#000" stroke-width="1.3"/><path d="M182.4,772.8h4 M182.4,746h4 M182.4,719.2h4 M182.4,692.4h4 M182.4,665.6h4 M182.4,638.8h4 M182.4,612h4 M182.4,585.2h4 M182.4,558.4h4 M450.7,772.8h-4 M450.7,751.36h-2 M450.7,729.92h-4 M450.7,708.48h-2 M450.7,687.04h-4 M450.7,665.6h-2 M450.7,644.16h-4 M450.7,622.72h-2 M450.7,601.28h-4 M450.7,579.84h-2 M450.7,558.4h-4 M182.4,772.8v-4 M215.94,772.8v-2 M249.47,772.8v-4 M283.01,772.8v-2 M316.55,772.8v-4 M350.09,772.8v-2 M383.62,772.8v-4 M417.16,772.8v-2 M450.7,772.8v-4" stroke="#000" stroke-width="1.2" fill="none"/><text x="177.7" y="776.8" text-anchor="end" font-size="12">0</text><text x="177.7" y="750" text-anchor="end" font-size="12">10</text><text x="177.7" y="723.2" text-anchor="end" font-size="12">20</text><text x="177.7" y="696.4" text-anchor="end" font-size="12">30</text><text x="177.7" y="669.6" text-anchor="end" font-size="12">40</text><text x="177.7" y="642.8" text-anchor="end" font-size="12">50</text><text x="177.7" y="616" text-anchor="end" font-size="12">60</text><text x="177.7" y="589.2" text-anchor="end" font-size="12">70</text><text x="177.7" y="562.4" text-anchor="end" font-size="12">80</text><text x="455.3" y="776.8" font-size="12">0.0</text><text x="455.3" y="733.92" font-size="12">0.2</text><text x="455.3" y="691.04" font-size="12">0.4</text><text x="455.3" y="648.16" font-size="12">0.6</text><text x="455.3" y="605.28" font-size="12">0.8</text><text x="455.3" y="562.4" font-size="12">1.0</text><text x="182.4" y="787.3" text-anchor="middle" font-size="12">0</text><text x="249.47" y="787.3" text-anchor="middle" font-size="12">1</text><text x="316.55" y="787.3" text-anchor="middle" font-size="12">2</text><text x="383.62" y="787.3" text-anchor="middle" font-size="12">3</text><text x="450.7" y="787.3" text-anchor="middle" font-size="12">4</text><text transform="translate(159.7,665.6) rotate(-90)" text-anchor="middle" font-weight="bold" font-size="14.3">Stress (MPa)</text><text transform="translate(486,665.6) rotate(-90)" text-anchor="middle" font-weight="bold" font-size="14.15">Damage variable</text><text x="283.4" y="802.8" font-weight="bold" font-size="14">Strain (10<tspan dx="0.3" dy="-5.8" font-size="9.5">-2</tspan><tspan dx="0.6" dy="5.8">)</tspan></text><text x="147.3" y="563.1" font-weight="bold" font-size="14">(e)</text><path d="M314,644h26" stroke="#3ec46b" stroke-opacity="0.7" stroke-width="1.3"/><circle cx="327" cy="644" r="1.3" fill="#3ec46b"/><path d="M314,657.9h26" stroke="#2c5e98" stroke-opacity="0.75" stroke-width="1.3"/><rect x="326" y="656.9" width="2" height="2" fill="#2c5e98"/><path d="M315.7,671.6h23" stroke="#ffb910" stroke-width="2.4" stroke-dasharray="3.4 6.2" stroke-linecap="round"/><text x="342.7" y="648.1" font-size="11.25">Stress test value</text><text x="342.7" y="661.9" font-size="11.25">Stress calculation value</text><text x="344" y="675.7" font-size="11.25">Damage variable</text></g>
</svg>
</body></html>
